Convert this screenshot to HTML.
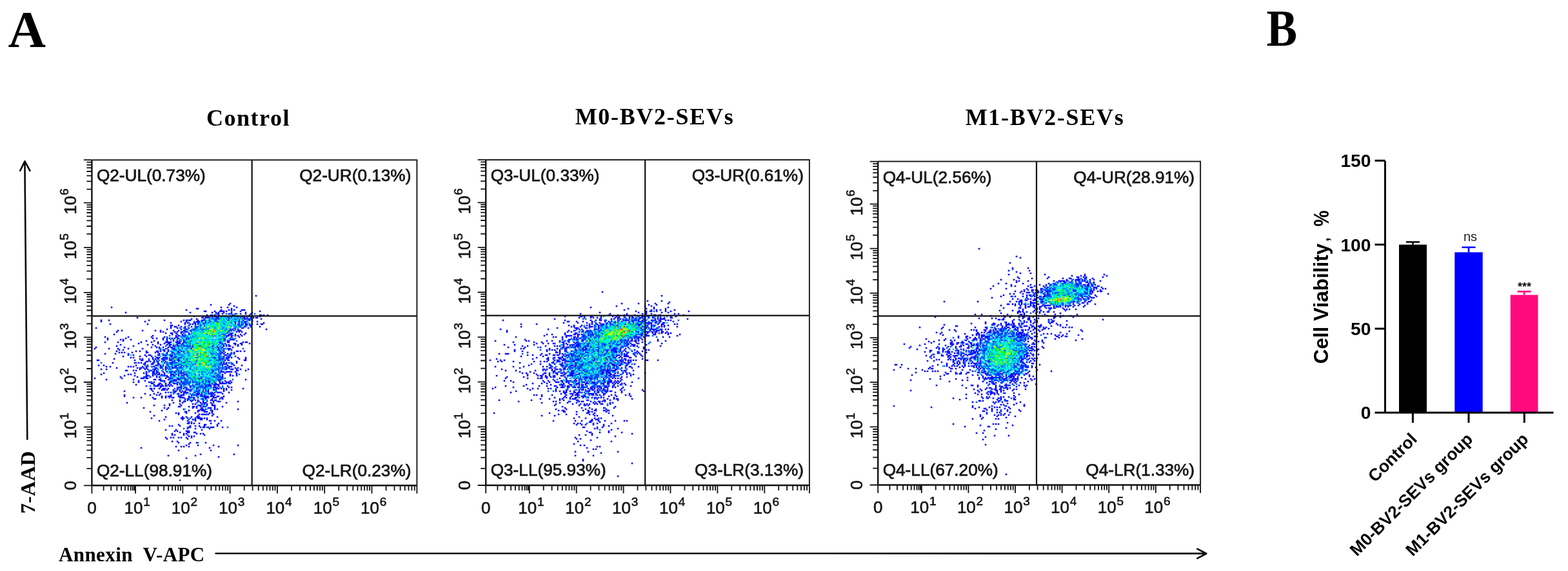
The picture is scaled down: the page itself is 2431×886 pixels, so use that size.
<!DOCTYPE html>
<html><head><meta charset="utf-8"><title>Figure</title>
<style>html,body{margin:0;padding:0;background:#fff;overflow:hidden;}svg{display:block;}</style>
</head><body>
<svg width="2431" height="886" viewBox="0 0 2431 886">
<rect width="2431" height="886" fill="#fff"/>
<text x="12.5" y="72.8" font-family="'Liberation Serif', 'Times New Roman', serif" font-weight="bold" font-size="81">A</text>
<text transform="translate(1963.5,71.3) scale(0.88,1)" font-family="'Liberation Serif', 'Times New Roman', serif" font-weight="bold" font-size="81">B</text>
<g font-family="'Liberation Serif', 'Times New Roman', serif" font-weight="bold" font-size="36" fill="#000">
<text x="385" y="194.8" text-anchor="middle" letter-spacing="1.5">Control</text>
<text x="1015" y="192.8" text-anchor="middle" letter-spacing="1.7">M0-BV2-SEVs</text>
<text x="1620" y="193.8" text-anchor="middle" letter-spacing="1.7">M1-BV2-SEVs</text>
</g>
<text transform="translate(53.9,797) rotate(-90)" font-family="'Liberation Serif', 'Times New Roman', serif" font-weight="bold" font-size="32" letter-spacing="0.3">7-AAD</text>
<path d="M42.3 681.5L38.4 251.5M31.3 264.8L38.4 250.2L46.4 264.8" stroke="#0a0a0a" stroke-width="2.6" fill="none" stroke-linecap="round" stroke-linejoin="round"/>
<text x="91" y="871" font-family="'Liberation Serif', 'Times New Roman', serif" font-weight="bold" font-size="31" letter-spacing="0.4" xml:space="preserve">Annexin  V-APC</text>
<path d="M334.6 858.7L1868 858.9M1856.3 851.7L1870.3 859L1856.3 866.4" stroke="#0a0a0a" stroke-width="2.6" fill="none" stroke-linecap="round" stroke-linejoin="round"/>
<g fill="none" stroke-width="2.6" stroke-linecap="square"><path d="M397 459h0M357 471h0M327 473h0M355 473h0M363 475h0M173 477h0M343 477h0M353 477h0M367 477h0M305 479h0M307 479h0M359 479h0M289 481h0M343 481h0M355 481h0M359 481h0M363 481h0M375 481h0M377 481h0M379 481h0M317 483h0M319 483h0M333 483h0M341 483h0M343 483h0M345 483h0M347 483h0M351 483h0M373 483h0M403 483h0M195 485h0M295 485h0M329 485h0M335 485h0M339 485h0M347 485h0M359 485h0M381 485h0M391 485h0M337 487h0M339 487h0M345 487h0M355 487h0M359 487h0M365 487h0M373 487h0M381 487h0M389 487h0M321 489h0M327 489h0M329 489h0M333 489h0M339 489h0M361 489h0M387 489h0M403 489h0M405 489h0M409 489h0M415 489h0M315 491h0M319 491h0M323 491h0M327 491h0M335 491h0M339 491h0M359 491h0M363 491h0M365 491h0M367 491h0M375 491h0M379 491h0M391 491h0M403 491h0M213 493h0M315 493h0M319 493h0M321 493h0M323 493h0M329 493h0M335 493h0M337 493h0M339 493h0M353 493h0M355 493h0M359 493h0M369 493h0M373 493h0M377 493h0M379 493h0M383 493h0M389 493h0M393 493h0M397 493h0M399 493h0M297 495h0M305 495h0M317 495h0M331 495h0M335 495h0M339 495h0M351 495h0M355 495h0M365 495h0M379 495h0M381 495h0M385 495h0M387 495h0M405 495h0M157 497h0M169 497h0M231 497h0M255 497h0M285 497h0M289 497h0M293 497h0M295 497h0M307 497h0M313 497h0M315 497h0M325 497h0M333 497h0M335 497h0M353 497h0M355 497h0M371 497h0M377 497h0M387 497h0M391 497h0M157 499h0M225 499h0M281 499h0M289 499h0M305 499h0M307 499h0M309 499h0M313 499h0M319 499h0M325 499h0M365 499h0M371 499h0M375 499h0M379 499h0M381 499h0M391 499h0M399 499h0M265 501h0M287 501h0M291 501h0M301 501h0M303 501h0M307 501h0M309 501h0M319 501h0M323 501h0M331 501h0M347 501h0M359 501h0M365 501h0M371 501h0M375 501h0M381 501h0M409 501h0M171 503h0M229 503h0M287 503h0M295 503h0M299 503h0M303 503h0M307 503h0M347 503h0M365 503h0M369 503h0M375 503h0M381 503h0M383 503h0M387 503h0M391 503h0M399 503h0M405 503h0M407 503h0M265 505h0M267 505h0M277 505h0M293 505h0M311 505h0M363 505h0M371 505h0M381 505h0M389 505h0M265 507h0M271 507h0M273 507h0M281 507h0M287 507h0M297 507h0M303 507h0M307 507h0M373 507h0M379 507h0M389 507h0M403 507h0M149 509h0M265 509h0M275 509h0M287 509h0M293 509h0M303 509h0M305 509h0M375 509h0M377 509h0M385 509h0M259 511h0M281 511h0M289 511h0M299 511h0M301 511h0M303 511h0M317 511h0M323 511h0M357 511h0M361 511h0M365 511h0M369 511h0M413 511h0M183 513h0M189 513h0M221 513h0M241 513h0M249 513h0M269 513h0M277 513h0M285 513h0M287 513h0M295 513h0M297 513h0M355 513h0M359 513h0M363 513h0M369 513h0M371 513h0M373 513h0M181 515h0M249 515h0M253 515h0M271 515h0M275 515h0M281 515h0M283 515h0M287 515h0M289 515h0M315 515h0M367 515h0M371 515h0M375 515h0M257 517h0M265 517h0M267 517h0M273 517h0M281 517h0M293 517h0M339 517h0M359 517h0M381 517h0M177 519h0M267 519h0M275 519h0M283 519h0M293 519h0M321 519h0M349 519h0M355 519h0M357 519h0M359 519h0M365 519h0M373 519h0M379 519h0M237 521h0M273 521h0M277 521h0M283 521h0M285 521h0M299 521h0M303 521h0M325 521h0M333 521h0M341 521h0M351 521h0M353 521h0M355 521h0M359 521h0M365 521h0M369 521h0M375 521h0M163 523h0M199 523h0M235 523h0M255 523h0M273 523h0M275 523h0M291 523h0M351 523h0M359 523h0M371 523h0M167 525h0M195 525h0M237 525h0M243 525h0M253 525h0M259 525h0M263 525h0M267 525h0M271 525h0M277 525h0M289 525h0M291 525h0M293 525h0M297 525h0M347 525h0M357 525h0M167 527h0M187 527h0M191 527h0M203 527h0M253 527h0M259 527h0M285 527h0M289 527h0M341 527h0M349 527h0M357 527h0M359 527h0M361 527h0M363 527h0M191 529h0M227 529h0M239 529h0M259 529h0M269 529h0M275 529h0M279 529h0M285 529h0M353 529h0M355 529h0M163 531h0M183 531h0M219 531h0M235 531h0M245 531h0M257 531h0M259 531h0M261 531h0M263 531h0M265 531h0M273 531h0M275 531h0M277 531h0M279 531h0M285 531h0M287 531h0M341 531h0M343 531h0M353 531h0M355 531h0M377 531h0M381 531h0M383 531h0M215 533h0M245 533h0M255 533h0M261 533h0M263 533h0M275 533h0M277 533h0M279 533h0M283 533h0M289 533h0M345 533h0M349 533h0M363 533h0M365 533h0M373 533h0M375 533h0M387 533h0M187 535h0M229 535h0M237 535h0M249 535h0M259 535h0M263 535h0M265 535h0M275 535h0M281 535h0M291 535h0M331 535h0M347 535h0M351 535h0M355 535h0M365 535h0M369 535h0M375 535h0M181 537h0M207 537h0M241 537h0M263 537h0M269 537h0M271 537h0M275 537h0M277 537h0M285 537h0M287 537h0M289 537h0M293 537h0M295 537h0M299 537h0M309 537h0M311 537h0M329 537h0M331 537h0M337 537h0M347 537h0M351 537h0M355 537h0M357 537h0M369 537h0M149 539h0M193 539h0M235 539h0M243 539h0M247 539h0M253 539h0M261 539h0M265 539h0M267 539h0M297 539h0M299 539h0M323 539h0M337 539h0M339 539h0M345 539h0M361 539h0M147 541h0M169 541h0M183 541h0M199 541h0M221 541h0M267 541h0M269 541h0M271 541h0M297 541h0M319 541h0M331 541h0M339 541h0M343 541h0M353 541h0M355 541h0M357 541h0M185 543h0M191 543h0M253 543h0M255 543h0M261 543h0M271 543h0M273 543h0M279 543h0M339 543h0M341 543h0M355 543h0M359 543h0M181 545h0M211 545h0M217 545h0M227 545h0M243 545h0M245 545h0M249 545h0M255 545h0M261 545h0M277 545h0M281 545h0M285 545h0M341 545h0M347 545h0M367 545h0M369 545h0M373 545h0M379 545h0M185 547h0M189 547h0M193 547h0M205 547h0M227 547h0M229 547h0M241 547h0M245 547h0M259 547h0M267 547h0M269 547h0M277 547h0M285 547h0M319 547h0M341 547h0M345 547h0M363 547h0M163 549h0M179 549h0M199 549h0M247 549h0M259 549h0M271 549h0M275 549h0M307 549h0M339 549h0M343 549h0M347 549h0M353 549h0M359 549h0M363 549h0M199 551h0M207 551h0M225 551h0M231 551h0M233 551h0M245 551h0M247 551h0M253 551h0M255 551h0M257 551h0M263 551h0M265 551h0M267 551h0M279 551h0M283 551h0M293 551h0M305 551h0M329 551h0M335 551h0M349 551h0M351 551h0M357 551h0M191 553h0M217 553h0M227 553h0M235 553h0M265 553h0M267 553h0M273 553h0M339 553h0M347 553h0M355 553h0M365 553h0M203 555h0M207 555h0M237 555h0M243 555h0M245 555h0M247 555h0M253 555h0M255 555h0M257 555h0M259 555h0M271 555h0M273 555h0M277 555h0M279 555h0M281 555h0M331 555h0M333 555h0M339 555h0M341 555h0M347 555h0M351 555h0M353 555h0M355 555h0M359 555h0M369 555h0M381 555h0M177 557h0M217 557h0M221 557h0M237 557h0M241 557h0M245 557h0M251 557h0M253 557h0M257 557h0M259 557h0M275 557h0M277 557h0M285 557h0M291 557h0M333 557h0M341 557h0M343 557h0M345 557h0M353 557h0M371 557h0M381 557h0M151 559h0M153 559h0M209 559h0M219 559h0M221 559h0M231 559h0M239 559h0M253 559h0M255 559h0M263 559h0M265 559h0M271 559h0M275 559h0M277 559h0M279 559h0M305 559h0M335 559h0M337 559h0M341 559h0M349 559h0M355 559h0M379 559h0M381 559h0M227 561h0M229 561h0M233 561h0M239 561h0M245 561h0M251 561h0M257 561h0M269 561h0M277 561h0M281 561h0M343 561h0M347 561h0M367 561h0M175 563h0M209 563h0M215 563h0M219 563h0M225 563h0M237 563h0M245 563h0M255 563h0M259 563h0M263 563h0M265 563h0M267 563h0M273 563h0M285 563h0M297 563h0M343 563h0M347 563h0M351 563h0M355 563h0M359 563h0M367 563h0M223 565h0M225 565h0M235 565h0M237 565h0M245 565h0M247 565h0M259 565h0M265 565h0M267 565h0M277 565h0M303 565h0M319 565h0M327 565h0M339 565h0M341 565h0M345 565h0M349 565h0M351 565h0M361 565h0M153 567h0M161 567h0M211 567h0M229 567h0M243 567h0M249 567h0M253 567h0M273 567h0M345 567h0M353 567h0M363 567h0M375 567h0M165 569h0M171 569h0M199 569h0M203 569h0M207 569h0M221 569h0M227 569h0M239 569h0M249 569h0M251 569h0M257 569h0M263 569h0M267 569h0M271 569h0M273 569h0M285 569h0M305 569h0M333 569h0M339 569h0M349 569h0M355 569h0M357 569h0M359 569h0M181 571h0M213 571h0M217 571h0M219 571h0M223 571h0M227 571h0M241 571h0M243 571h0M249 571h0M251 571h0M257 571h0M259 571h0M267 571h0M269 571h0M275 571h0M279 571h0M281 571h0M295 571h0M351 571h0M355 571h0M365 571h0M369 571h0M157 573h0M165 573h0M217 573h0M225 573h0M229 573h0M239 573h0M241 573h0M257 573h0M275 573h0M295 573h0M305 573h0M337 573h0M339 573h0M349 573h0M351 573h0M359 573h0M361 573h0M367 573h0M373 573h0M385 573h0M195 575h0M197 575h0M207 575h0M211 575h0M233 575h0M239 575h0M243 575h0M277 575h0M281 575h0M299 575h0M329 575h0M331 575h0M343 575h0M367 575h0M369 575h0M381 575h0M227 577h0M237 577h0M239 577h0M243 577h0M245 577h0M253 577h0M259 577h0M263 577h0M265 577h0M267 577h0M271 577h0M281 577h0M291 577h0M309 577h0M329 577h0M343 577h0M345 577h0M347 577h0M351 577h0M353 577h0M355 577h0M357 577h0M359 577h0M365 577h0M161 579h0M209 579h0M223 579h0M227 579h0M237 579h0M239 579h0M243 579h0M247 579h0M255 579h0M265 579h0M271 579h0M281 579h0M283 579h0M289 579h0M293 579h0M327 579h0M335 579h0M341 579h0M349 579h0M367 579h0M157 581h0M199 581h0M203 581h0M227 581h0M237 581h0M241 581h0M245 581h0M247 581h0M251 581h0M255 581h0M265 581h0M267 581h0M269 581h0M273 581h0M277 581h0M285 581h0M287 581h0M309 581h0M321 581h0M337 581h0M339 581h0M345 581h0M357 581h0M367 581h0M193 583h0M209 583h0M227 583h0M229 583h0M237 583h0M255 583h0M259 583h0M265 583h0M269 583h0M271 583h0M277 583h0M283 583h0M291 583h0M337 583h0M345 583h0M357 583h0M361 583h0M367 583h0M187 585h0M213 585h0M225 585h0M227 585h0M233 585h0M243 585h0M247 585h0M259 585h0M261 585h0M281 585h0M285 585h0M301 585h0M313 585h0M331 585h0M333 585h0M337 585h0M341 585h0M345 585h0M147 587h0M189 587h0M219 587h0M221 587h0M223 587h0M227 587h0M229 587h0M257 587h0M263 587h0M265 587h0M267 587h0M275 587h0M277 587h0M281 587h0M283 587h0M287 587h0M293 587h0M307 587h0M311 587h0M321 587h0M325 587h0M335 587h0M343 587h0M345 587h0M165 589h0M207 589h0M239 589h0M241 589h0M247 589h0M249 589h0M261 589h0M271 589h0M277 589h0M279 589h0M287 589h0M297 589h0M309 589h0M319 589h0M329 589h0M337 589h0M339 589h0M341 589h0M381 589h0M215 591h0M225 591h0M249 591h0M251 591h0M253 591h0M255 591h0M265 591h0M267 591h0M269 591h0M271 591h0M273 591h0M281 591h0M287 591h0M295 591h0M299 591h0M315 591h0M319 591h0M325 591h0M341 591h0M349 591h0M357 591h0M207 593h0M215 593h0M231 593h0M235 593h0M239 593h0M263 593h0M265 593h0M281 593h0M285 593h0M291 593h0M295 593h0M299 593h0M305 593h0M309 593h0M313 593h0M319 593h0M323 593h0M325 593h0M341 593h0M345 593h0M351 593h0M353 593h0M355 593h0M359 593h0M235 595h0M237 595h0M247 595h0M249 595h0M257 595h0M263 595h0M269 595h0M271 595h0M275 595h0M279 595h0M283 595h0M285 595h0M293 595h0M309 595h0M325 595h0M329 595h0M333 595h0M335 595h0M341 595h0M343 595h0M345 595h0M347 595h0M349 595h0M355 595h0M357 595h0M211 597h0M239 597h0M245 597h0M247 597h0M251 597h0M257 597h0M261 597h0M265 597h0M275 597h0M281 597h0M285 597h0M293 597h0M305 597h0M309 597h0M323 597h0M325 597h0M331 597h0M333 597h0M335 597h0M337 597h0M339 597h0M227 599h0M241 599h0M243 599h0M245 599h0M249 599h0M251 599h0M253 599h0M257 599h0M263 599h0M267 599h0M281 599h0M295 599h0M301 599h0M313 599h0M319 599h0M323 599h0M325 599h0M327 599h0M333 599h0M339 599h0M353 599h0M249 601h0M277 601h0M279 601h0M281 601h0M287 601h0M295 601h0M301 601h0M305 601h0M311 601h0M319 601h0M327 601h0M331 601h0M333 601h0M335 601h0M355 601h0M359 601h0M233 603h0M235 603h0M239 603h0M247 603h0M253 603h0M255 603h0M261 603h0M275 603h0M281 603h0M285 603h0M289 603h0M305 603h0M335 603h0M337 603h0M339 603h0M343 603h0M347 603h0M351 603h0M377 603h0M235 605h0M251 605h0M253 605h0M255 605h0M259 605h0M269 605h0M275 605h0M279 605h0M289 605h0M293 605h0M295 605h0M297 605h0M309 605h0M319 605h0M323 605h0M331 605h0M333 605h0M347 605h0M351 605h0M359 605h0M193 607h0M237 607h0M271 607h0M273 607h0M279 607h0M283 607h0M287 607h0M295 607h0M305 607h0M309 607h0M315 607h0M323 607h0M335 607h0M347 607h0M245 609h0M257 609h0M265 609h0M271 609h0M281 609h0M285 609h0M287 609h0M289 609h0M291 609h0M301 609h0M307 609h0M313 609h0M317 609h0M323 609h0M329 609h0M333 609h0M337 609h0M339 609h0M341 609h0M355 609h0M225 611h0M239 611h0M249 611h0M277 611h0M285 611h0M305 611h0M307 611h0M309 611h0M313 611h0M319 611h0M323 611h0M325 611h0M327 611h0M329 611h0M331 611h0M345 611h0M193 613h0M233 613h0M243 613h0M247 613h0M265 613h0M281 613h0M283 613h0M285 613h0M297 613h0M301 613h0M305 613h0M307 613h0M311 613h0M313 613h0M317 613h0M329 613h0M333 613h0M193 615h0M251 615h0M257 615h0M261 615h0M263 615h0M265 615h0M277 615h0M279 615h0M281 615h0M293 615h0M313 615h0M315 615h0M317 615h0M319 615h0M321 615h0M327 615h0M329 615h0M331 615h0M337 615h0M339 615h0M347 615h0M207 617h0M219 617h0M237 617h0M251 617h0M257 617h0M263 617h0M267 617h0M269 617h0M279 617h0M283 617h0M285 617h0M293 617h0M295 617h0M301 617h0M307 617h0M317 617h0M319 617h0M321 617h0M323 617h0M331 617h0M333 617h0M335 617h0M343 617h0M345 617h0M239 619h0M241 619h0M287 619h0M291 619h0M293 619h0M301 619h0M313 619h0M315 619h0M319 619h0M329 619h0M341 619h0M345 619h0M267 621h0M279 621h0M291 621h0M295 621h0M299 621h0M303 621h0M307 621h0M315 621h0M327 621h0M329 621h0M333 621h0M335 621h0M279 623h0M285 623h0M287 623h0M297 623h0M307 623h0M315 623h0M331 623h0M339 623h0M341 623h0M369 623h0M197 625h0M269 625h0M283 625h0M311 625h0M315 625h0M317 625h0M319 625h0M327 625h0M351 625h0M263 627h0M279 627h0M299 627h0M303 627h0M313 627h0M317 627h0M321 627h0M329 627h0M239 629h0M255 629h0M263 629h0M281 629h0M309 629h0M311 629h0M321 629h0M329 629h0M331 629h0M333 629h0M277 631h0M279 631h0M293 631h0M299 631h0M301 631h0M305 631h0M311 631h0M315 631h0M319 631h0M333 631h0M345 631h0M223 633h0M255 633h0M261 633h0M299 633h0M305 633h0M313 633h0M323 633h0M325 633h0M327 633h0M333 633h0M259 635h0M285 635h0M311 635h0M313 635h0M315 635h0M319 635h0M333 635h0M337 635h0M369 635h0M251 637h0M293 637h0M307 637h0M309 637h0M313 637h0M315 637h0M317 637h0M327 637h0M329 637h0M233 639h0M287 639h0M289 639h0M307 639h0M317 639h0M319 639h0M321 639h0M329 639h0M273 641h0M277 641h0M289 641h0M303 641h0M325 641h0M329 641h0M277 643h0M309 643h0M313 643h0M315 643h0M317 643h0M319 643h0M323 643h0M331 643h0M239 645h0M307 645h0M329 645h0M257 647h0M283 647h0M289 647h0M297 647h0M305 647h0M307 647h0M309 647h0M337 647h0M235 649h0M281 649h0M283 649h0M285 649h0M291 649h0M303 649h0M307 649h0M309 649h0M311 649h0M313 649h0M317 649h0M321 649h0M255 651h0M283 651h0M299 651h0M303 651h0M311 651h0M313 651h0M321 651h0M247 653h0M291 653h0M303 653h0M325 653h0M327 653h0M333 653h0M343 653h0M293 655h0M297 655h0M291 657h0M293 657h0M297 657h0M301 657h0M309 657h0M327 657h0M339 657h0M277 659h0M317 659h0M319 659h0M337 659h0M263 661h0M267 661h0M279 661h0M295 661h0M303 661h0M309 661h0M317 661h0M337 661h0M293 663h0M295 663h0M311 663h0M315 663h0M317 663h0M323 663h0M327 663h0M329 663h0M331 663h0M345 663h0M291 665h0M303 665h0M325 665h0M257 667h0M273 667h0M313 667h0M271 669h0M275 669h0M289 669h0M291 669h0M293 669h0M279 671h0M291 671h0M293 671h0M301 671h0M303 671h0M267 673h0M285 673h0M289 673h0M305 673h0M311 673h0M315 673h0M267 675h0M271 675h0M285 675h0M317 675h0M293 677h0M297 677h0M301 677h0M257 679h0M265 679h0M269 679h0M277 679h0M281 679h0M289 679h0M297 679h0M259 681h0M291 681h0M267 685h0M275 685h0M277 687h0M295 687h0M305 687h0M319 687h0M293 689h0M289 691h0M307 691h0M331 691h0M369 691h0M273 693h0M281 693h0M285 693h0M293 693h0M339 693h0M219 695h0M325 695h0M277 699h0M327 699h0M311 705h0M363 705h0M261 707h0M303 707h0M339 709h0M289 711h0M289 723h0M297 731h0M279 745h0" stroke="rgb(10,10,255)"/><path d="M359 483h0M335 487h0M351 487h0M357 487h0M367 487h0M395 487h0M363 489h0M301 491h0M321 491h0M331 491h0M333 491h0M343 491h0M347 491h0M349 491h0M353 491h0M357 491h0M369 491h0M371 491h0M385 491h0M387 491h0M313 493h0M325 493h0M343 493h0M325 495h0M329 495h0M333 495h0M337 495h0M341 495h0M347 495h0M363 495h0M367 495h0M371 495h0M375 495h0M383 495h0M389 495h0M391 495h0M291 497h0M317 497h0M319 497h0M347 497h0M359 497h0M365 497h0M385 497h0M301 499h0M327 499h0M333 499h0M335 499h0M337 499h0M339 499h0M349 499h0M363 499h0M369 499h0M383 499h0M293 501h0M315 501h0M317 501h0M337 501h0M357 501h0M379 501h0M311 503h0M315 503h0M317 503h0M327 503h0M349 503h0M371 503h0M377 503h0M303 505h0M317 505h0M343 505h0M353 505h0M357 505h0M369 505h0M373 505h0M375 505h0M383 505h0M387 505h0M305 507h0M311 507h0M317 507h0M333 507h0M345 507h0M365 507h0M367 507h0M371 507h0M381 507h0M279 509h0M285 509h0M311 509h0M315 509h0M325 509h0M333 509h0M345 509h0M347 509h0M351 509h0M363 509h0M365 509h0M287 511h0M291 511h0M311 511h0M313 511h0M315 511h0M319 511h0M345 511h0M349 511h0M351 511h0M359 511h0M301 513h0M305 513h0M307 513h0M313 513h0M349 513h0M357 513h0M291 515h0M297 515h0M311 515h0M341 515h0M353 515h0M355 515h0M285 517h0M347 517h0M351 517h0M353 517h0M357 517h0M361 517h0M287 519h0M295 519h0M343 519h0M345 519h0M347 519h0M263 521h0M279 521h0M287 521h0M289 521h0M329 521h0M339 521h0M347 521h0M361 521h0M259 523h0M281 523h0M285 523h0M287 523h0M295 523h0M299 523h0M301 523h0M345 523h0M275 525h0M283 525h0M303 525h0M307 525h0M343 525h0M349 525h0M361 525h0M365 525h0M265 527h0M269 527h0M275 527h0M279 527h0M293 527h0M319 527h0M323 527h0M329 527h0M339 527h0M347 527h0M281 529h0M287 529h0M295 529h0M297 529h0M311 529h0M321 529h0M347 529h0M349 529h0M367 529h0M289 531h0M291 531h0M295 531h0M339 531h0M285 533h0M293 533h0M295 533h0M305 533h0M307 533h0M317 533h0M325 533h0M329 533h0M341 533h0M343 533h0M269 535h0M273 535h0M283 535h0M285 535h0M295 535h0M299 535h0M325 535h0M339 535h0M345 535h0M257 537h0M279 537h0M281 537h0M291 537h0M341 537h0M271 539h0M277 539h0M283 539h0M291 539h0M293 539h0M313 539h0M325 539h0M329 539h0M333 539h0M343 539h0M247 541h0M249 541h0M257 541h0M259 541h0M277 541h0M283 541h0M287 541h0M291 541h0M295 541h0M329 541h0M347 541h0M349 541h0M377 541h0M249 543h0M269 543h0M289 543h0M299 543h0M331 543h0M337 543h0M345 543h0M347 543h0M265 545h0M275 545h0M283 545h0M291 545h0M325 545h0M329 545h0M343 545h0M275 547h0M279 547h0M291 547h0M293 547h0M327 547h0M331 547h0M335 547h0M343 547h0M349 547h0M359 547h0M253 549h0M267 549h0M277 549h0M287 549h0M291 549h0M311 549h0M327 549h0M329 549h0M331 549h0M333 549h0M337 549h0M341 549h0M357 549h0M259 551h0M271 551h0M301 551h0M339 551h0M341 551h0M355 551h0M241 553h0M257 553h0M271 553h0M281 553h0M285 553h0M315 553h0M321 553h0M323 553h0M341 553h0M343 553h0M353 553h0M357 553h0M263 555h0M267 555h0M269 555h0M283 555h0M287 555h0M303 555h0M305 555h0M307 555h0M325 555h0M329 555h0M335 555h0M345 555h0M231 557h0M255 557h0M263 557h0M265 557h0M267 557h0M269 557h0M289 557h0M295 557h0M339 557h0M347 557h0M351 557h0M243 559h0M247 559h0M267 559h0M289 559h0M325 559h0M327 559h0M339 559h0M345 559h0M353 559h0M243 561h0M267 561h0M271 561h0M287 561h0M291 561h0M293 561h0M295 561h0M303 561h0M305 561h0M325 561h0M333 561h0M339 561h0M157 563h0M211 563h0M239 563h0M269 563h0M271 563h0M275 563h0M283 563h0M287 563h0M303 563h0M337 563h0M341 563h0M261 565h0M279 565h0M281 565h0M291 565h0M299 565h0M301 565h0M309 565h0M311 565h0M333 565h0M335 565h0M343 565h0M347 565h0M359 565h0M225 567h0M241 567h0M245 567h0M259 567h0M261 567h0M267 567h0M271 567h0M275 567h0M277 567h0M281 567h0M283 567h0M287 567h0M289 567h0M295 567h0M299 567h0M323 567h0M331 567h0M333 567h0M337 567h0M341 567h0M229 569h0M235 569h0M237 569h0M261 569h0M279 569h0M281 569h0M289 569h0M291 569h0M297 569h0M329 569h0M345 569h0M351 569h0M263 571h0M271 571h0M273 571h0M277 571h0M283 571h0M289 571h0M301 571h0M335 571h0M339 571h0M341 571h0M343 571h0M345 571h0M347 571h0M353 571h0M237 573h0M245 573h0M253 573h0M261 573h0M263 573h0M265 573h0M283 573h0M319 573h0M327 573h0M329 573h0M333 573h0M335 573h0M345 573h0M357 573h0M231 575h0M235 575h0M251 575h0M257 575h0M273 575h0M275 575h0M321 575h0M335 575h0M339 575h0M231 577h0M269 577h0M273 577h0M277 577h0M279 577h0M285 577h0M287 577h0M313 577h0M315 577h0M317 577h0M325 577h0M331 577h0M339 577h0M341 577h0M277 579h0M279 579h0M285 579h0M295 579h0M313 579h0M319 579h0M323 579h0M329 579h0M333 579h0M239 581h0M281 581h0M289 581h0M291 581h0M297 581h0M301 581h0M303 581h0M313 581h0M315 581h0M333 581h0M371 581h0M231 583h0M243 583h0M249 583h0M251 583h0M253 583h0M257 583h0M281 583h0M285 583h0M289 583h0M297 583h0M303 583h0M309 583h0M327 583h0M331 583h0M335 583h0M339 583h0M341 583h0M223 585h0M265 585h0M269 585h0M291 585h0M311 585h0M319 585h0M329 585h0M339 585h0M343 585h0M249 587h0M279 587h0M285 587h0M295 587h0M297 587h0M301 587h0M303 587h0M309 587h0M313 587h0M323 587h0M339 587h0M349 587h0M263 589h0M269 589h0M273 589h0M275 589h0M289 589h0M291 589h0M299 589h0M303 589h0M313 589h0M317 589h0M323 589h0M343 589h0M361 589h0M289 591h0M291 591h0M303 591h0M321 591h0M323 591h0M331 591h0M335 591h0M339 591h0M233 593h0M255 593h0M269 593h0M275 593h0M277 593h0M283 593h0M287 593h0M289 593h0M293 593h0M301 593h0M303 593h0M315 593h0M331 593h0M333 593h0M273 595h0M287 595h0M289 595h0M291 595h0M305 595h0M307 595h0M315 595h0M317 595h0M319 595h0M351 595h0M279 597h0M287 597h0M289 597h0M299 597h0M303 597h0M307 597h0M313 597h0M317 597h0M319 597h0M321 597h0M327 597h0M233 599h0M239 599h0M259 599h0M285 599h0M297 599h0M299 599h0M309 599h0M311 599h0M315 599h0M321 599h0M345 599h0M275 601h0M289 601h0M307 601h0M309 601h0M313 601h0M315 601h0M317 601h0M321 601h0M337 601h0M341 601h0M345 601h0M257 603h0M271 603h0M277 603h0M291 603h0M299 603h0M307 603h0M315 603h0M317 603h0M319 603h0M323 603h0M331 603h0M291 605h0M305 605h0M315 605h0M335 605h0M269 607h0M303 607h0M307 607h0M319 607h0M321 607h0M261 609h0M269 609h0M303 609h0M309 609h0M327 609h0M343 609h0M269 611h0M275 611h0M289 611h0M295 611h0M299 611h0M277 613h0M299 613h0M303 613h0M327 613h0M297 615h0M305 615h0M311 615h0M323 615h0M281 617h0M297 617h0M299 617h0M287 621h0M297 621h0M321 621h0M309 623h0M321 623h0M337 623h0M305 625h0M331 625h0M307 629h0M315 629h0M317 631h0M327 635h0M321 643h0M295 649h0M293 651h0M301 651h0M291 663h0M321 663h0M353 663h0M285 665h0M291 675h0M307 687h0" stroke="rgb(0,90,255)"/><path d="M345 491h0M351 491h0M361 491h0M377 491h0M381 491h0M333 493h0M345 493h0M347 493h0M349 493h0M351 493h0M357 493h0M363 493h0M367 493h0M327 495h0M343 495h0M357 495h0M361 495h0M323 497h0M337 497h0M345 497h0M349 497h0M361 497h0M367 497h0M369 497h0M383 497h0M311 499h0M323 499h0M331 499h0M343 499h0M345 499h0M351 499h0M359 499h0M373 499h0M377 499h0M313 501h0M321 501h0M325 501h0M327 501h0M343 501h0M345 501h0M351 501h0M355 501h0M377 501h0M385 501h0M309 503h0M319 503h0M321 503h0M329 503h0M333 503h0M343 503h0M361 503h0M309 505h0M313 505h0M349 505h0M355 505h0M359 505h0M365 505h0M377 505h0M291 507h0M309 507h0M319 507h0M325 507h0M337 507h0M347 507h0M349 507h0M359 507h0M363 507h0M307 509h0M319 509h0M321 509h0M323 509h0M335 509h0M341 509h0M355 509h0M357 509h0M369 509h0M297 511h0M305 511h0M307 511h0M309 511h0M321 511h0M333 511h0M335 511h0M341 511h0M343 511h0M353 511h0M291 513h0M299 513h0M303 513h0M309 513h0M315 513h0M325 513h0M331 513h0M347 513h0M301 515h0M303 515h0M309 515h0M317 515h0M345 515h0M349 515h0M297 517h0M299 517h0M313 517h0M319 517h0M345 517h0M285 519h0M297 519h0M301 519h0M305 519h0M313 519h0M317 519h0M341 519h0M291 521h0M305 521h0M309 521h0M315 521h0M331 521h0M335 521h0M349 521h0M283 523h0M289 523h0M297 523h0M305 523h0M307 523h0M309 523h0M317 523h0M323 523h0M327 523h0M331 523h0M335 523h0M347 523h0M349 523h0M265 525h0M295 525h0M321 525h0M339 525h0M341 525h0M281 527h0M287 527h0M299 527h0M311 527h0M313 527h0M317 527h0M331 527h0M333 527h0M335 527h0M337 527h0M343 527h0M353 527h0M291 529h0M301 529h0M305 529h0M325 529h0M329 529h0M333 529h0M341 529h0M343 529h0M299 531h0M305 531h0M319 531h0M333 531h0M303 533h0M321 533h0M337 533h0M289 535h0M335 535h0M343 535h0M301 537h0M323 537h0M343 537h0M273 539h0M281 539h0M289 539h0M295 539h0M303 539h0M307 539h0M317 539h0M327 539h0M335 539h0M275 541h0M281 541h0M289 541h0M301 541h0M317 541h0M321 541h0M335 541h0M341 541h0M351 541h0M267 543h0M277 543h0M281 543h0M297 543h0M325 543h0M267 545h0M269 545h0M273 545h0M287 545h0M299 545h0M305 545h0M333 545h0M339 545h0M289 547h0M301 547h0M305 547h0M317 547h0M329 547h0M251 549h0M257 549h0M265 549h0M269 549h0M273 549h0M279 549h0M281 549h0M285 549h0M293 549h0M295 549h0M305 549h0M335 549h0M203 551h0M273 551h0M277 551h0M281 551h0M285 551h0M291 551h0M299 551h0M313 551h0M323 551h0M337 551h0M249 553h0M255 553h0M269 553h0M275 553h0M283 553h0M287 553h0M291 553h0M293 553h0M295 553h0M309 553h0M311 553h0M327 553h0M331 553h0M333 553h0M345 553h0M311 555h0M321 555h0M327 555h0M343 555h0M279 557h0M315 557h0M325 557h0M335 557h0M287 559h0M291 559h0M323 559h0M329 559h0M343 559h0M253 561h0M259 561h0M279 561h0M285 561h0M297 561h0M313 561h0M321 561h0M331 561h0M345 561h0M261 563h0M281 563h0M289 563h0M293 563h0M323 563h0M335 563h0M357 563h0M253 565h0M269 565h0M271 565h0M273 565h0M285 565h0M289 565h0M293 565h0M295 565h0M297 565h0M305 565h0M313 565h0M325 565h0M285 567h0M297 567h0M321 567h0M329 567h0M335 567h0M339 567h0M343 567h0M247 569h0M253 569h0M265 569h0M277 569h0M295 569h0M309 569h0M311 569h0M317 569h0M331 569h0M335 569h0M341 569h0M261 571h0M303 571h0M305 571h0M315 571h0M323 571h0M329 571h0M277 573h0M285 573h0M297 573h0M299 573h0M307 573h0M311 573h0M313 573h0M315 573h0M317 573h0M321 573h0M331 573h0M341 573h0M347 573h0M265 575h0M267 575h0M279 575h0M285 575h0M301 575h0M315 575h0M323 575h0M325 575h0M333 575h0M275 577h0M293 577h0M297 577h0M301 577h0M307 577h0M311 577h0M319 577h0M267 579h0M273 579h0M297 579h0M301 579h0M325 579h0M339 579h0M271 581h0M275 581h0M325 581h0M341 581h0M293 583h0M307 583h0M315 583h0M317 583h0M325 583h0M329 583h0M267 585h0M271 585h0M273 585h0M277 585h0M283 585h0M293 585h0M295 585h0M315 585h0M317 585h0M321 585h0M327 585h0M335 585h0M289 587h0M319 587h0M327 587h0M347 587h0M265 589h0M267 589h0M325 589h0M327 589h0M331 589h0M333 589h0M345 589h0M285 591h0M301 591h0M305 591h0M309 591h0M327 591h0M333 591h0M267 593h0M307 593h0M311 593h0M321 593h0M327 593h0M281 595h0M295 595h0M299 595h0M303 595h0M311 595h0M323 595h0M283 597h0M311 597h0M303 599h0M307 599h0M283 601h0M297 601h0M323 601h0M297 603h0M311 603h0M325 603h0M327 603h0M281 605h0M301 605h0M311 605h0M321 605h0M297 607h0M301 607h0M315 609h0M319 609h0M321 609h0M293 611h0M301 611h0M317 611h0M321 611h0M319 613h0M307 615h0M315 617h0M311 619h0M317 621h0M317 629h0M287 635h0M321 635h0" stroke="rgb(0,190,255)"/><path d="M355 491h0M341 493h0M365 493h0M371 493h0M349 495h0M353 495h0M321 497h0M329 497h0M331 497h0M343 497h0M351 497h0M357 497h0M363 497h0M321 499h0M329 499h0M341 499h0M347 499h0M353 499h0M361 499h0M367 499h0M311 501h0M329 501h0M333 501h0M339 501h0M349 501h0M361 501h0M373 501h0M323 503h0M331 503h0M341 503h0M345 503h0M353 503h0M355 503h0M359 503h0M363 503h0M319 505h0M321 505h0M323 505h0M325 505h0M327 505h0M329 505h0M331 505h0M333 505h0M335 505h0M339 505h0M341 505h0M345 505h0M347 505h0M351 505h0M361 505h0M367 505h0M315 507h0M321 507h0M327 507h0M335 507h0M339 507h0M343 507h0M351 507h0M353 507h0M357 507h0M375 507h0M301 509h0M309 509h0M313 509h0M327 509h0M329 509h0M331 509h0M343 509h0M349 509h0M327 511h0M337 511h0M339 511h0M347 511h0M311 513h0M321 513h0M335 513h0M339 513h0M365 513h0M305 515h0M307 515h0M321 515h0M327 515h0M335 515h0M339 515h0M347 515h0M303 517h0M305 517h0M307 517h0M311 517h0M315 517h0M325 517h0M327 517h0M329 517h0M331 517h0M333 517h0M337 517h0M341 517h0M343 517h0M349 517h0M299 519h0M307 519h0M309 519h0M311 519h0M315 519h0M319 519h0M323 519h0M327 519h0M331 519h0M335 519h0M339 519h0M295 521h0M297 521h0M301 521h0M311 521h0M313 521h0M317 521h0M321 521h0M323 521h0M327 521h0M337 521h0M343 521h0M293 523h0M311 523h0M315 523h0M319 523h0M321 523h0M337 523h0M339 523h0M341 523h0M343 523h0M285 525h0M299 525h0M301 525h0M311 525h0M313 525h0M323 525h0M325 525h0M327 525h0M331 525h0M335 525h0M337 525h0M345 525h0M355 525h0M295 527h0M301 527h0M303 527h0M305 527h0M307 527h0M309 527h0M315 527h0M321 527h0M325 527h0M327 527h0M289 529h0M293 529h0M299 529h0M307 529h0M309 529h0M313 529h0M317 529h0M319 529h0M323 529h0M327 529h0M331 529h0M335 529h0M345 529h0M297 531h0M301 531h0M303 531h0M311 531h0M327 531h0M329 531h0M335 531h0M337 531h0M345 531h0M269 533h0M287 533h0M291 533h0M297 533h0M299 533h0M301 533h0M309 533h0M311 533h0M315 533h0M319 533h0M327 533h0M333 533h0M279 535h0M287 535h0M293 535h0M307 535h0M309 535h0M313 535h0M317 535h0M321 535h0M333 535h0M337 535h0M349 535h0M303 537h0M315 537h0M321 537h0M327 537h0M333 537h0M339 537h0M275 539h0M279 539h0M287 539h0M301 539h0M305 539h0M319 539h0M331 539h0M273 541h0M303 541h0M313 541h0M325 541h0M327 541h0M333 541h0M283 543h0M285 543h0M287 543h0M293 543h0M295 543h0M307 543h0M309 543h0M321 543h0M323 543h0M327 543h0M343 543h0M271 545h0M297 545h0M309 545h0M311 545h0M313 545h0M315 545h0M317 545h0M319 545h0M321 545h0M323 545h0M327 545h0M331 545h0M335 545h0M273 547h0M283 547h0M295 547h0M299 547h0M303 547h0M307 547h0M315 547h0M323 547h0M333 547h0M339 547h0M289 549h0M297 549h0M301 549h0M309 549h0M319 549h0M321 549h0M323 549h0M261 551h0M287 551h0M289 551h0M295 551h0M297 551h0M307 551h0M315 551h0M325 551h0M327 551h0M331 551h0M333 551h0M277 553h0M279 553h0M297 553h0M305 553h0M313 553h0M335 553h0M337 553h0M275 555h0M285 555h0M289 555h0M291 555h0M295 555h0M299 555h0M301 555h0M315 555h0M337 555h0M273 557h0M281 557h0M297 557h0M299 557h0M305 557h0M307 557h0M317 557h0M319 557h0M321 557h0M323 557h0M327 557h0M329 557h0M331 557h0M273 559h0M281 559h0M283 559h0M285 559h0M293 559h0M295 559h0M299 559h0M309 559h0M317 559h0M321 559h0M331 559h0M301 561h0M307 561h0M311 561h0M315 561h0M327 561h0M329 561h0M335 561h0M337 561h0M341 561h0M251 563h0M277 563h0M279 563h0M295 563h0M299 563h0M301 563h0M307 563h0M309 563h0M311 563h0M321 563h0M325 563h0M327 563h0M329 563h0M339 563h0M257 565h0M315 565h0M323 565h0M329 565h0M337 565h0M263 567h0M269 567h0M293 567h0M301 567h0M303 567h0M307 567h0M309 567h0M311 567h0M319 567h0M327 567h0M287 569h0M293 569h0M299 569h0M301 569h0M303 569h0M313 569h0M315 569h0M323 569h0M285 571h0M291 571h0M293 571h0M297 571h0M307 571h0M309 571h0M311 571h0M317 571h0M321 571h0M325 571h0M327 571h0M331 571h0M333 571h0M279 573h0M281 573h0M287 573h0M293 573h0M301 573h0M309 573h0M325 573h0M245 575h0M261 575h0M289 575h0M291 575h0M293 575h0M295 575h0M297 575h0M307 575h0M309 575h0M313 575h0M319 575h0M327 575h0M337 575h0M295 577h0M299 577h0M303 577h0M305 577h0M321 577h0M323 577h0M327 577h0M333 577h0M261 579h0M291 579h0M299 579h0M307 579h0M309 579h0M315 579h0M317 579h0M321 579h0M293 581h0M295 581h0M299 581h0M307 581h0M311 581h0M317 581h0M319 581h0M327 581h0M329 581h0M331 581h0M335 581h0M295 583h0M299 583h0M301 583h0M305 583h0M313 583h0M319 583h0M321 583h0M323 583h0M279 585h0M305 585h0M307 585h0M309 585h0M323 585h0M325 585h0M299 587h0M315 587h0M329 587h0M331 587h0M281 589h0M295 589h0M301 589h0M305 589h0M321 589h0M335 589h0M293 591h0M297 591h0M311 591h0M317 591h0M317 593h0M329 593h0M313 595h0M321 595h0M331 595h0M291 597h0M305 599h0M303 601h0M325 601h0M301 603h0M321 603h0M311 607h0M333 607h0M311 609h0M295 619h0" stroke="rgb(0,245,230)"/><path d="M345 495h0M373 495h0M355 499h0M357 499h0M341 501h0M353 501h0M335 503h0M351 503h0M331 507h0M341 507h0M369 507h0M331 511h0M317 513h0M323 513h0M337 513h0M345 513h0M351 513h0M353 513h0M313 515h0M329 515h0M337 515h0M343 515h0M335 517h0M303 519h0M337 519h0M307 521h0M319 521h0M303 523h0M325 523h0M329 523h0M305 525h0M319 525h0M303 529h0M315 529h0M339 529h0M313 531h0M315 531h0M321 531h0M335 533h0M305 535h0M311 535h0M323 535h0M329 535h0M305 537h0M317 537h0M319 537h0M311 541h0M323 541h0M311 543h0M319 543h0M329 543h0M333 543h0M293 545h0M301 545h0M303 545h0M307 545h0M299 549h0M315 549h0M319 551h0M299 553h0M319 553h0M329 553h0M293 555h0M309 555h0M313 555h0M317 555h0M319 555h0M323 555h0M287 557h0M293 557h0M301 557h0M311 557h0M337 557h0M301 559h0M303 559h0M307 559h0M311 559h0M313 559h0M333 559h0M299 561h0M319 561h0M291 563h0M305 563h0M331 563h0M333 563h0M283 565h0M287 565h0M321 565h0M331 565h0M317 567h0M307 569h0M313 571h0M303 575h0M311 575h0M317 575h0M289 577h0M303 585h0M283 589h0M311 589h0M315 589h0M307 591h0" stroke="rgb(0,255,120)"/><path d="M341 497h0M337 503h0M337 505h0M329 507h0M337 509h0M319 513h0M327 513h0M341 513h0M323 515h0M301 517h0M321 517h0M329 519h0M313 523h0M317 525h0M297 527h0M345 527h0M293 531h0M309 531h0M317 531h0M323 531h0M331 531h0M323 533h0M331 533h0M301 535h0M315 535h0M297 537h0M307 537h0M313 537h0M315 539h0M321 539h0M305 541h0M307 541h0M311 547h0M325 547h0M313 549h0M317 549h0M311 551h0M317 551h0M307 553h0M297 555h0M315 559h0M289 561h0M317 561h0M323 561h0M317 563h0M319 563h0M275 565h0M291 567h0M325 567h0M319 571h0M303 573h0M323 573h0M303 579h0M299 585h0M305 587h0M329 591h0" stroke="rgb(0,255,30)"/><path d="M335 501h0M339 503h0M353 509h0M329 513h0M325 515h0M351 515h0M309 517h0M333 519h0M345 521h0M325 531h0M313 533h0M303 535h0M319 535h0M325 537h0M309 539h0M311 539h0M315 541h0M301 543h0M303 543h0M295 545h0M297 547h0M321 547h0M303 551h0M309 551h0M317 553h0M271 557h0M313 557h0M319 559h0M309 561h0M315 563h0M307 565h0M313 567h0M315 567h0M327 569h0M305 575h0" stroke="rgb(120,255,0)"/><path d="M323 507h0M355 507h0M317 509h0M339 509h0M325 511h0M329 511h0M343 513h0M333 515h0M317 517h0M323 517h0M309 525h0M315 525h0M299 541h0M309 541h0M305 543h0M315 543h0M317 543h0M309 547h0M313 547h0M303 549h0M325 553h0M303 557h0M309 557h0M297 559h0M317 565h0M305 567h0M325 569h0" stroke="rgb(220,255,0)"/><path d="M325 519h0M307 531h0M313 543h0M321 551h0M301 553h0M313 563h0M321 569h0" stroke="rgb(255,200,0)"/><path d="M333 513h0M331 515h0" stroke="rgb(255,120,0)"/></g>
<path d="M390.6 248.2V753.3M142.4 490.3H646.4" stroke="#111" stroke-width="2.2" fill="none"/>
<path d="M142.4 753.3v12.5M142.4 753.3h-12.5M160.6 753.3v8M142.4 727.2h-8M172.2 753.3v8M142.4 710.1h-8M181.3 753.3v8M142.4 698.6h-8M188.1 753.3v8M142.4 690.6h-8M193.9 753.3v8M142.4 683.7h-8M198.7 753.3v8M142.4 678.8h-8M202.7 753.3v8M142.4 674.4h-8M205.7 753.3v8M142.4 670.2h-8M208.2 753.3v8M142.4 666.3h-8M210.0 753.3v12.5M142.4 662.6h-12.5M232.1 753.3v8M142.4 641.6h-8M245.0 753.3v8M142.4 629.4h-8M254.1 753.3v8M142.4 620.7h-8M261.2 753.3v8M142.4 614.0h-8M267.0 753.3v8M142.4 608.4h-8M271.9 753.3v8M142.4 603.8h-8M276.2 753.3v8M142.4 599.7h-8M279.9 753.3v8M142.4 596.2h-8M283.3 753.3v12.5M142.4 593.0h-12.5M305.4 753.3v8M142.4 572.0h-8M318.3 753.3v8M142.4 559.8h-8M327.4 753.3v8M142.4 551.1h-8M334.5 753.3v8M142.4 544.4h-8M340.3 753.3v8M142.4 538.8h-8M345.2 753.3v8M142.4 534.2h-8M349.5 753.3v8M142.4 530.1h-8M353.2 753.3v8M142.4 526.6h-8M356.6 753.3v12.5M142.4 523.4h-12.5M378.7 753.3v8M142.4 502.4h-8M391.6 753.3v8M142.4 490.2h-8M400.7 753.3v8M142.4 481.5h-8M407.8 753.3v8M142.4 474.8h-8M413.6 753.3v8M142.4 469.2h-8M418.5 753.3v8M142.4 464.6h-8M422.8 753.3v8M142.4 460.5h-8M426.5 753.3v8M142.4 457.0h-8M429.9 753.3v12.5M142.4 453.8h-12.5M452.0 753.3v8M142.4 432.8h-8M464.9 753.3v8M142.4 420.6h-8M474.0 753.3v8M142.4 411.9h-8M481.1 753.3v8M142.4 405.2h-8M486.9 753.3v8M142.4 399.6h-8M491.8 753.3v8M142.4 395.0h-8M496.1 753.3v8M142.4 390.9h-8M499.8 753.3v8M142.4 387.4h-8M503.2 753.3v12.5M142.4 384.2h-12.5M525.3 753.3v8M142.4 363.2h-8M538.2 753.3v8M142.4 351.0h-8M547.3 753.3v8M142.4 342.3h-8M554.4 753.3v8M142.4 335.6h-8M560.2 753.3v8M142.4 330.0h-8M565.1 753.3v8M142.4 325.4h-8M569.4 753.3v8M142.4 321.3h-8M573.1 753.3v8M142.4 317.8h-8M576.5 753.3v12.5M142.4 314.6h-12.5M598.6 753.3v8M142.4 293.6h-8M611.5 753.3v8M142.4 281.4h-8M620.6 753.3v8M142.4 272.7h-8M627.7 753.3v8M142.4 266.0h-8M633.5 753.3v8M142.4 260.4h-8M638.4 753.3v8M142.4 255.8h-8M642.7 753.3v8M142.4 251.7h-8M646.4 753.3v8M142.4 248.2h-8M646.4 753.3v12.5M142.4 248.2h-12.5" stroke="#111" stroke-width="1.8" fill="none"/><path d="M142.4 248.2V753.3H646.4" stroke="#111" stroke-width="2.4" fill="none"/><path d="M142.4 248.2H646.4V753.3" stroke="#222" stroke-width="2" fill="none"/>
<g font-family="'Liberation Sans', Arial, sans-serif" font-size="26" fill="#161616" stroke="#161616" stroke-width="0.6"><text x="142.4" y="797.2" text-anchor="middle">0</text><text x="192.5" y="797.2">10<tspan font-size="19" dx="0.8" dy="-12">1</tspan></text><text x="265.8" y="797.2">10<tspan font-size="19" dx="0.8" dy="-12">2</tspan></text><text x="339.1" y="797.2">10<tspan font-size="19" dx="0.8" dy="-12">3</tspan></text><text x="412.4" y="797.2">10<tspan font-size="19" dx="0.8" dy="-12">4</tspan></text><text x="485.7" y="797.2">10<tspan font-size="19" dx="0.8" dy="-12">5</tspan></text><text x="559.0" y="797.2">10<tspan font-size="19" dx="0.8" dy="-12">6</tspan></text><text transform="translate(117.8,753.3) rotate(-90)" text-anchor="middle">0</text><text transform="translate(117.8,680.8) rotate(-90)">10<tspan font-size="19" dx="0.8" dy="-12">1</tspan></text><text transform="translate(117.8,611.2) rotate(-90)">10<tspan font-size="19" dx="0.8" dy="-12">2</tspan></text><text transform="translate(117.8,541.6) rotate(-90)">10<tspan font-size="19" dx="0.8" dy="-12">3</tspan></text><text transform="translate(117.8,472.0) rotate(-90)">10<tspan font-size="19" dx="0.8" dy="-12">4</tspan></text><text transform="translate(117.8,402.4) rotate(-90)">10<tspan font-size="19" dx="0.8" dy="-12">5</tspan></text><text transform="translate(117.8,332.8) rotate(-90)">10<tspan font-size="19" dx="0.8" dy="-12">6</tspan></text></g><rect x="147.4" y="716.3" width="180" height="28" fill="#fff" fill-opacity="0.7"/><g font-family="'Liberation Sans', Arial, sans-serif" font-size="26.2" fill="#161616" stroke="#161616" stroke-width="0.75"><text x="149.9" y="281.2">Q2-UL(0.73%)</text><text x="637.4" y="281.2" text-anchor="end">Q2-UR(0.13%)</text><text x="149.9" y="738.5">Q2-LL(98.91%)</text><text x="637.4" y="738.5" text-anchor="end">Q2-LR(0.23%)</text></g>
<g fill="none" stroke-width="2.6" stroke-linecap="square"><path d="M934 453h0M1026 459h0M1004 467h0M1026 467h0M1038 469h0M964 471h0M990 471h0M1016 471h0M1036 471h0M1006 473h0M1018 473h0M956 475h0M1000 475h0M1010 475h0M916 477h0M1014 477h0M1036 477h0M974 479h0M1002 479h0M1014 479h0M1032 479h0M968 481h0M1010 481h0M1018 481h0M1024 481h0M1032 481h0M1046 481h0M986 483h0M1000 483h0M1002 483h0M1008 483h0M1010 483h0M1018 483h0M1032 483h0M1040 483h0M1068 483h0M930 485h0M990 485h0M1002 485h0M1026 485h0M1036 485h0M900 487h0M946 487h0M972 487h0M996 487h0M1000 487h0M1002 487h0M1010 487h0M1046 487h0M1052 487h0M944 489h0M958 489h0M968 489h0M972 489h0M984 489h0M1014 489h0M1016 489h0M1022 489h0M1024 489h0M1060 489h0M876 491h0M900 491h0M902 491h0M906 491h0M916 491h0M918 491h0M932 491h0M950 491h0M956 491h0M960 491h0M968 491h0M976 491h0M980 491h0M990 491h0M996 491h0M998 491h0M1006 491h0M1040 491h0M1048 491h0M898 493h0M906 493h0M916 493h0M920 493h0M926 493h0M932 493h0M954 493h0M958 493h0M960 493h0M976 493h0M980 493h0M982 493h0M986 493h0M992 493h0M994 493h0M996 493h0M1000 493h0M1006 493h0M1012 493h0M1014 493h0M1020 493h0M1024 493h0M1030 493h0M1040 493h0M1042 493h0M860 495h0M930 495h0M948 495h0M952 495h0M958 495h0M962 495h0M976 495h0M986 495h0M990 495h0M998 495h0M1016 495h0M1020 495h0M1024 495h0M1026 495h0M1028 495h0M1030 495h0M1066 495h0M780 497h0M876 497h0M916 497h0M924 497h0M930 497h0M932 497h0M938 497h0M960 497h0M966 497h0M968 497h0M970 497h0M972 497h0M974 497h0M980 497h0M984 497h0M986 497h0M990 497h0M996 497h0M1000 497h0M1010 497h0M1012 497h0M1016 497h0M1022 497h0M1024 497h0M1032 497h0M1036 497h0M1040 497h0M880 499h0M882 499h0M894 499h0M904 499h0M918 499h0M938 499h0M944 499h0M948 499h0M954 499h0M958 499h0M964 499h0M976 499h0M980 499h0M982 499h0M990 499h0M992 499h0M996 499h0M998 499h0M1018 499h0M1024 499h0M1044 499h0M874 501h0M896 501h0M910 501h0M918 501h0M930 501h0M946 501h0M952 501h0M954 501h0M982 501h0M988 501h0M994 501h0M1002 501h0M1004 501h0M1006 501h0M1008 501h0M1010 501h0M1016 501h0M1022 501h0M1028 501h0M1030 501h0M808 503h0M832 503h0M914 503h0M918 503h0M924 503h0M926 503h0M932 503h0M934 503h0M936 503h0M940 503h0M946 503h0M948 503h0M968 503h0M970 503h0M978 503h0M982 503h0M988 503h0M990 503h0M992 503h0M994 503h0M1006 503h0M1010 503h0M1020 503h0M1026 503h0M1028 503h0M1046 503h0M1050 503h0M882 505h0M890 505h0M902 505h0M910 505h0M914 505h0M922 505h0M928 505h0M934 505h0M952 505h0M956 505h0M958 505h0M990 505h0M992 505h0M1010 505h0M1014 505h0M1026 505h0M1030 505h0M1036 505h0M808 507h0M886 507h0M890 507h0M900 507h0M906 507h0M914 507h0M916 507h0M918 507h0M928 507h0M940 507h0M946 507h0M958 507h0M962 507h0M968 507h0M990 507h0M996 507h0M998 507h0M1004 507h0M1010 507h0M1022 507h0M1026 507h0M1030 507h0M1050 507h0M864 509h0M892 509h0M894 509h0M896 509h0M908 509h0M910 509h0M928 509h0M940 509h0M988 509h0M994 509h0M1002 509h0M1006 509h0M1010 509h0M1020 509h0M776 511h0M850 511h0M894 511h0M898 511h0M902 511h0M922 511h0M924 511h0M932 511h0M994 511h0M998 511h0M1008 511h0M1010 511h0M1012 511h0M1014 511h0M1016 511h0M1024 511h0M1026 511h0M1032 511h0M1036 511h0M786 513h0M882 513h0M890 513h0M904 513h0M910 513h0M916 513h0M936 513h0M976 513h0M986 513h0M996 513h0M1008 513h0M1014 513h0M1018 513h0M1020 513h0M1022 513h0M1026 513h0M786 515h0M880 515h0M886 515h0M898 515h0M904 515h0M908 515h0M912 515h0M916 515h0M928 515h0M930 515h0M980 515h0M988 515h0M990 515h0M998 515h0M1000 515h0M1002 515h0M1004 515h0M1006 515h0M1012 515h0M1016 515h0M1018 515h0M1026 515h0M1028 515h0M1034 515h0M876 517h0M892 517h0M894 517h0M918 517h0M934 517h0M994 517h0M996 517h0M1004 517h0M1012 517h0M1016 517h0M1022 517h0M1026 517h0M1032 517h0M1036 517h0M1040 517h0M848 519h0M856 519h0M876 519h0M890 519h0M892 519h0M896 519h0M898 519h0M902 519h0M912 519h0M916 519h0M918 519h0M920 519h0M924 519h0M928 519h0M934 519h0M978 519h0M986 519h0M994 519h0M996 519h0M1002 519h0M1014 519h0M1016 519h0M1036 519h0M1054 519h0M844 521h0M878 521h0M880 521h0M882 521h0M884 521h0M886 521h0M896 521h0M904 521h0M906 521h0M912 521h0M926 521h0M956 521h0M974 521h0M986 521h0M994 521h0M1002 521h0M1004 521h0M1006 521h0M1050 521h0M800 523h0M858 523h0M862 523h0M872 523h0M878 523h0M890 523h0M892 523h0M896 523h0M904 523h0M908 523h0M916 523h0M928 523h0M976 523h0M978 523h0M984 523h0M986 523h0M988 523h0M990 523h0M992 523h0M998 523h0M1028 523h0M1038 523h0M890 525h0M894 525h0M900 525h0M906 525h0M912 525h0M922 525h0M974 525h0M980 525h0M984 525h0M988 525h0M990 525h0M994 525h0M1000 525h0M814 527h0M872 527h0M882 527h0M884 527h0M890 527h0M894 527h0M896 527h0M904 527h0M914 527h0M962 527h0M964 527h0M970 527h0M974 527h0M980 527h0M986 527h0M990 527h0M996 527h0M1020 527h0M768 529h0M816 529h0M820 529h0M848 529h0M856 529h0M868 529h0M876 529h0M882 529h0M902 529h0M904 529h0M910 529h0M916 529h0M924 529h0M948 529h0M958 529h0M962 529h0M972 529h0M978 529h0M980 529h0M984 529h0M986 529h0M990 529h0M1000 529h0M1020 529h0M1032 529h0M796 531h0M828 531h0M840 531h0M872 531h0M874 531h0M882 531h0M890 531h0M894 531h0M896 531h0M918 531h0M928 531h0M948 531h0M964 531h0M968 531h0M972 531h0M976 531h0M986 531h0M996 531h0M832 533h0M842 533h0M850 533h0M858 533h0M860 533h0M874 533h0M878 533h0M892 533h0M896 533h0M898 533h0M906 533h0M912 533h0M914 533h0M928 533h0M944 533h0M946 533h0M950 533h0M952 533h0M962 533h0M970 533h0M974 533h0M978 533h0M988 533h0M990 533h0M1026 533h0M782 535h0M798 535h0M828 535h0M874 535h0M880 535h0M888 535h0M890 535h0M894 535h0M896 535h0M898 535h0M912 535h0M924 535h0M928 535h0M936 535h0M938 535h0M956 535h0M958 535h0M960 535h0M972 535h0M974 535h0M980 535h0M982 535h0M984 535h0M1002 535h0M810 537h0M818 537h0M846 537h0M860 537h0M864 537h0M868 537h0M874 537h0M884 537h0M888 537h0M892 537h0M894 537h0M896 537h0M898 537h0M906 537h0M908 537h0M910 537h0M912 537h0M916 537h0M934 537h0M938 537h0M946 537h0M948 537h0M970 537h0M982 537h0M984 537h0M988 537h0M1024 537h0M788 539h0M814 539h0M838 539h0M872 539h0M874 539h0M878 539h0M880 539h0M882 539h0M886 539h0M890 539h0M892 539h0M896 539h0M900 539h0M904 539h0M908 539h0M916 539h0M928 539h0M946 539h0M952 539h0M964 539h0M974 539h0M998 539h0M808 541h0M812 541h0M852 541h0M864 541h0M870 541h0M876 541h0M878 541h0M898 541h0M902 541h0M904 541h0M908 541h0M910 541h0M920 541h0M950 541h0M952 541h0M954 541h0M956 541h0M962 541h0M970 541h0M998 541h0M798 543h0M848 543h0M852 543h0M856 543h0M860 543h0M868 543h0M876 543h0M892 543h0M894 543h0M900 543h0M904 543h0M906 543h0M908 543h0M914 543h0M920 543h0M924 543h0M928 543h0M940 543h0M942 543h0M948 543h0M950 543h0M952 543h0M954 543h0M962 543h0M968 543h0M984 543h0M1002 543h0M1006 543h0M798 545h0M810 545h0M848 545h0M868 545h0M876 545h0M878 545h0M886 545h0M904 545h0M920 545h0M922 545h0M926 545h0M928 545h0M932 545h0M942 545h0M948 545h0M952 545h0M954 545h0M956 545h0M962 545h0M970 545h0M980 545h0M988 545h0M996 545h0M818 547h0M862 547h0M864 547h0M868 547h0M880 547h0M892 547h0M908 547h0M910 547h0M912 547h0M918 547h0M928 547h0M934 547h0M954 547h0M956 547h0M964 547h0M974 547h0M986 547h0M990 547h0M1002 547h0M774 549h0M784 549h0M786 549h0M788 549h0M840 549h0M852 549h0M868 549h0M872 549h0M884 549h0M886 549h0M890 549h0M900 549h0M938 549h0M944 549h0M964 549h0M968 549h0M972 549h0M982 549h0M992 549h0M818 551h0M826 551h0M838 551h0M846 551h0M848 551h0M858 551h0M860 551h0M864 551h0M866 551h0M874 551h0M878 551h0M880 551h0M882 551h0M886 551h0M888 551h0M892 551h0M898 551h0M928 551h0M936 551h0M938 551h0M948 551h0M950 551h0M956 551h0M958 551h0M960 551h0M968 551h0M970 551h0M972 551h0M984 551h0M994 551h0M808 553h0M842 553h0M872 553h0M882 553h0M886 553h0M894 553h0M898 553h0M902 553h0M906 553h0M932 553h0M944 553h0M956 553h0M962 553h0M968 553h0M970 553h0M972 553h0M974 553h0M986 553h0M996 553h0M832 555h0M850 555h0M860 555h0M866 555h0M868 555h0M872 555h0M880 555h0M884 555h0M892 555h0M896 555h0M900 555h0M920 555h0M928 555h0M940 555h0M950 555h0M952 555h0M954 555h0M960 555h0M964 555h0M976 555h0M978 555h0M770 557h0M826 557h0M848 557h0M850 557h0M858 557h0M868 557h0M874 557h0M876 557h0M894 557h0M896 557h0M900 557h0M906 557h0M908 557h0M922 557h0M926 557h0M940 557h0M948 557h0M968 557h0M970 557h0M996 557h0M760 559h0M776 559h0M782 559h0M850 559h0M860 559h0M864 559h0M866 559h0M872 559h0M874 559h0M876 559h0M890 559h0M894 559h0M896 559h0M898 559h0M920 559h0M922 559h0M938 559h0M948 559h0M956 559h0M962 559h0M964 559h0M970 559h0M974 559h0M978 559h0M982 559h0M986 559h0M1002 559h0M1004 559h0M1020 559h0M772 561h0M778 561h0M796 561h0M828 561h0M838 561h0M844 561h0M848 561h0M864 561h0M866 561h0M868 561h0M878 561h0M880 561h0M882 561h0M888 561h0M890 561h0M900 561h0M958 561h0M962 561h0M966 561h0M974 561h0M978 561h0M806 563h0M856 563h0M858 563h0M872 563h0M876 563h0M886 563h0M892 563h0M894 563h0M904 563h0M912 563h0M916 563h0M918 563h0M930 563h0M938 563h0M940 563h0M946 563h0M948 563h0M954 563h0M964 563h0M968 563h0M970 563h0M974 563h0M976 563h0M824 565h0M838 565h0M852 565h0M860 565h0M870 565h0M892 565h0M902 565h0M904 565h0M910 565h0M926 565h0M936 565h0M938 565h0M944 565h0M950 565h0M952 565h0M962 565h0M964 565h0M972 565h0M984 565h0M820 567h0M854 567h0M870 567h0M872 567h0M874 567h0M880 567h0M884 567h0M886 567h0M888 567h0M892 567h0M894 567h0M902 567h0M914 567h0M928 567h0M944 567h0M950 567h0M952 567h0M954 567h0M960 567h0M962 567h0M972 567h0M768 569h0M796 569h0M812 569h0M842 569h0M848 569h0M856 569h0M872 569h0M878 569h0M890 569h0M892 569h0M896 569h0M900 569h0M902 569h0M930 569h0M932 569h0M934 569h0M938 569h0M944 569h0M952 569h0M956 569h0M976 569h0M978 569h0M990 569h0M806 571h0M852 571h0M854 571h0M860 571h0M874 571h0M876 571h0M882 571h0M886 571h0M888 571h0M898 571h0M926 571h0M932 571h0M950 571h0M952 571h0M964 571h0M970 571h0M980 571h0M778 573h0M842 573h0M844 573h0M848 573h0M856 573h0M862 573h0M864 573h0M868 573h0M874 573h0M876 573h0M880 573h0M884 573h0M892 573h0M898 573h0M926 573h0M932 573h0M936 573h0M938 573h0M942 573h0M946 573h0M954 573h0M956 573h0M784 575h0M800 575h0M830 575h0M846 575h0M856 575h0M860 575h0M870 575h0M888 575h0M890 575h0M904 575h0M906 575h0M910 575h0M918 575h0M930 575h0M934 575h0M936 575h0M940 575h0M942 575h0M944 575h0M948 575h0M950 575h0M952 575h0M954 575h0M964 575h0M968 575h0M970 575h0M982 575h0M806 577h0M822 577h0M858 577h0M860 577h0M874 577h0M886 577h0M888 577h0M894 577h0M902 577h0M908 577h0M910 577h0M920 577h0M934 577h0M940 577h0M942 577h0M944 577h0M952 577h0M970 577h0M810 579h0M816 579h0M828 579h0M844 579h0M846 579h0M852 579h0M862 579h0M864 579h0M870 579h0M872 579h0M876 579h0M884 579h0M886 579h0M888 579h0M890 579h0M898 579h0M914 579h0M932 579h0M934 579h0M936 579h0M940 579h0M944 579h0M946 579h0M954 579h0M958 579h0M966 579h0M972 579h0M976 579h0M1000 579h0M818 581h0M832 581h0M842 581h0M852 581h0M864 581h0M876 581h0M884 581h0M886 581h0M888 581h0M894 581h0M898 581h0M906 581h0M908 581h0M922 581h0M926 581h0M932 581h0M934 581h0M946 581h0M948 581h0M952 581h0M972 581h0M982 581h0M770 583h0M818 583h0M834 583h0M838 583h0M840 583h0M846 583h0M852 583h0M860 583h0M870 583h0M872 583h0M880 583h0M882 583h0M884 583h0M886 583h0M888 583h0M916 583h0M918 583h0M924 583h0M928 583h0M940 583h0M944 583h0M946 583h0M952 583h0M954 583h0M958 583h0M978 583h0M786 585h0M812 585h0M840 585h0M846 585h0M848 585h0M854 585h0M858 585h0M860 585h0M876 585h0M892 585h0M896 585h0M904 585h0M906 585h0M908 585h0M910 585h0M918 585h0M922 585h0M924 585h0M948 585h0M952 585h0M964 585h0M972 585h0M784 587h0M818 587h0M834 587h0M838 587h0M840 587h0M848 587h0M868 587h0M878 587h0M894 587h0M900 587h0M908 587h0M910 587h0M914 587h0M916 587h0M922 587h0M936 587h0M944 587h0M950 587h0M954 587h0M958 587h0M962 587h0M990 587h0M858 589h0M878 589h0M892 589h0M898 589h0M902 589h0M916 589h0M926 589h0M936 589h0M946 589h0M964 589h0M782 591h0M792 591h0M842 591h0M850 591h0M860 591h0M870 591h0M872 591h0M878 591h0M880 591h0M884 591h0M890 591h0M894 591h0M930 591h0M938 591h0M944 591h0M946 591h0M948 591h0M954 591h0M958 591h0M962 591h0M796 593h0M844 593h0M852 593h0M862 593h0M864 593h0M866 593h0M872 593h0M878 593h0M882 593h0M888 593h0M892 593h0M898 593h0M902 593h0M904 593h0M906 593h0M910 593h0M918 593h0M920 593h0M922 593h0M926 593h0M936 593h0M938 593h0M942 593h0M944 593h0M946 593h0M948 593h0M952 593h0M956 593h0M960 593h0M980 593h0M826 595h0M840 595h0M848 595h0M874 595h0M882 595h0M894 595h0M896 595h0M898 595h0M908 595h0M910 595h0M912 595h0M920 595h0M922 595h0M932 595h0M934 595h0M936 595h0M942 595h0M944 595h0M950 595h0M954 595h0M958 595h0M964 595h0M968 595h0M816 597h0M854 597h0M868 597h0M870 597h0M872 597h0M874 597h0M884 597h0M886 597h0M894 597h0M898 597h0M902 597h0M904 597h0M908 597h0M922 597h0M924 597h0M936 597h0M952 597h0M962 597h0M970 597h0M784 599h0M812 599h0M836 599h0M848 599h0M860 599h0M862 599h0M872 599h0M880 599h0M882 599h0M890 599h0M902 599h0M910 599h0M920 599h0M926 599h0M928 599h0M930 599h0M938 599h0M940 599h0M944 599h0M950 599h0M958 599h0M978 599h0M768 601h0M796 601h0M864 601h0M870 601h0M872 601h0M874 601h0M880 601h0M882 601h0M890 601h0M892 601h0M896 601h0M898 601h0M902 601h0M904 601h0M906 601h0M916 601h0M918 601h0M922 601h0M926 601h0M930 601h0M932 601h0M938 601h0M940 601h0M942 601h0M950 601h0M954 601h0M966 601h0M764 603h0M818 603h0M826 603h0M834 603h0M850 603h0M854 603h0M900 603h0M904 603h0M912 603h0M916 603h0M918 603h0M922 603h0M928 603h0M932 603h0M936 603h0M964 603h0M822 605h0M862 605h0M878 605h0M898 605h0M902 605h0M904 605h0M908 605h0M914 605h0M918 605h0M920 605h0M926 605h0M930 605h0M936 605h0M938 605h0M942 605h0M962 605h0M996 605h0M800 607h0M862 607h0M868 607h0M874 607h0M878 607h0M884 607h0M890 607h0M898 607h0M910 607h0M912 607h0M914 607h0M922 607h0M928 607h0M938 607h0M940 607h0M942 607h0M946 607h0M948 607h0M964 607h0M998 607h0M792 609h0M874 609h0M876 609h0M878 609h0M890 609h0M892 609h0M896 609h0M898 609h0M902 609h0M928 609h0M934 609h0M940 609h0M954 609h0M964 609h0M870 611h0M876 611h0M886 611h0M888 611h0M894 611h0M896 611h0M908 611h0M912 611h0M914 611h0M916 611h0M918 611h0M920 611h0M924 611h0M936 611h0M938 611h0M976 611h0M828 613h0M832 613h0M840 613h0M856 613h0M878 613h0M888 613h0M892 613h0M894 613h0M896 613h0M906 613h0M918 613h0M920 613h0M926 613h0M930 613h0M936 613h0M948 613h0M954 613h0M970 613h0M976 613h0M840 615h0M876 615h0M886 615h0M896 615h0M902 615h0M904 615h0M906 615h0M908 615h0M944 615h0M956 615h0M978 615h0M860 617h0M874 617h0M878 617h0M884 617h0M892 617h0M894 617h0M904 617h0M912 617h0M918 617h0M922 617h0M924 617h0M928 617h0M932 617h0M936 617h0M952 617h0M838 619h0M852 619h0M868 619h0M872 619h0M884 619h0M888 619h0M890 619h0M892 619h0M926 619h0M942 619h0M952 619h0M956 619h0M958 619h0M980 619h0M774 621h0M824 621h0M868 621h0M874 621h0M894 621h0M896 621h0M910 621h0M912 621h0M936 621h0M938 621h0M946 621h0M958 621h0M804 623h0M858 623h0M862 623h0M882 623h0M898 623h0M902 623h0M904 623h0M916 623h0M928 623h0M930 623h0M934 623h0M938 623h0M840 625h0M868 625h0M880 625h0M894 625h0M920 625h0M924 625h0M930 625h0M946 625h0M950 625h0M862 627h0M888 627h0M900 627h0M906 627h0M910 627h0M914 627h0M922 627h0M926 627h0M932 627h0M934 627h0M946 627h0M860 629h0M898 629h0M906 629h0M908 629h0M912 629h0M872 631h0M954 631h0M876 633h0M902 633h0M914 633h0M936 633h0M952 633h0M862 635h0M878 635h0M908 635h0M918 635h0M924 635h0M940 635h0M866 637h0M872 637h0M874 637h0M904 637h0M912 637h0M922 637h0M924 637h0M936 637h0M938 637h0M942 637h0M944 637h0M874 639h0M876 639h0M894 639h0M912 639h0M914 639h0M918 639h0M940 639h0M766 641h0M852 641h0M910 641h0M912 641h0M922 641h0M944 641h0M866 643h0M878 643h0M894 643h0M914 643h0M920 643h0M840 645h0M860 645h0M922 645h0M926 645h0M950 645h0M898 647h0M890 649h0M908 649h0M922 649h0M928 649h0M932 649h0M918 651h0M924 651h0M926 651h0M858 653h0M892 653h0M902 653h0M916 653h0M918 653h0M928 653h0M938 653h0M954 653h0M968 653h0M972 653h0M914 655h0M916 655h0M930 655h0M890 657h0M896 657h0M900 657h0M920 657h0M926 657h0M948 657h0M894 659h0M902 659h0M908 659h0M920 659h0M936 659h0M936 661h0M944 661h0M904 663h0M906 663h0M926 663h0M934 663h0M922 665h0M926 665h0M958 665h0M948 667h0M910 669h0M944 669h0M914 671h0M916 671h0M930 671h0M944 671h0M964 671h0M918 673h0M980 673h0M898 675h0M908 675h0M918 675h0M954 677h0M892 679h0M926 679h0M894 681h0M900 681h0M916 683h0M896 685h0M948 685h0M890 689h0M900 691h0M906 691h0M926 693h0M930 693h0M910 695h0M920 697h0M924 697h0M892 701h0M912 701h0M958 701h0M932 703h0M892 707h0M920 707h0M904 713h0M904 715h0M980 719h0M958 739h0" stroke="rgb(10,10,255)"/><path d="M1014 483h0M1004 491h0M1012 491h0M1016 491h0M1020 491h0M1024 491h0M1034 491h0M968 493h0M970 493h0M904 495h0M908 495h0M932 495h0M966 495h0M970 495h0M972 495h0M980 495h0M984 495h0M992 495h0M940 497h0M948 497h0M958 497h0M982 497h0M988 497h0M998 497h0M1002 497h0M1014 497h0M1052 497h0M922 499h0M970 499h0M994 499h0M1000 499h0M1006 499h0M1012 499h0M1016 499h0M1022 499h0M924 501h0M940 501h0M942 501h0M958 501h0M974 501h0M976 501h0M996 501h0M1018 501h0M942 503h0M950 503h0M960 503h0M976 503h0M986 503h0M1004 503h0M930 505h0M932 505h0M936 505h0M940 505h0M946 505h0M950 505h0M984 505h0M986 505h0M1002 505h0M1004 505h0M1012 505h0M1016 505h0M922 507h0M924 507h0M932 507h0M934 507h0M942 507h0M954 507h0M972 507h0M974 507h0M982 507h0M1002 507h0M1014 507h0M914 509h0M922 509h0M930 509h0M936 509h0M942 509h0M952 509h0M986 509h0M992 509h0M1018 509h0M926 511h0M928 511h0M938 511h0M990 511h0M996 511h0M1000 511h0M1018 511h0M892 513h0M912 513h0M914 513h0M922 513h0M928 513h0M930 513h0M932 513h0M934 513h0M946 513h0M994 513h0M1000 513h0M902 515h0M910 515h0M914 515h0M918 515h0M924 515h0M976 515h0M986 515h0M1010 515h0M908 517h0M912 517h0M914 517h0M922 517h0M924 517h0M932 517h0M964 517h0M990 517h0M904 519h0M906 519h0M914 519h0M980 519h0M988 519h0M990 519h0M992 519h0M908 521h0M914 521h0M916 521h0M918 521h0M920 521h0M924 521h0M928 521h0M930 521h0M938 521h0M970 521h0M972 521h0M982 521h0M984 521h0M996 521h0M1012 521h0M902 523h0M906 523h0M910 523h0M922 523h0M924 523h0M930 523h0M934 523h0M944 523h0M966 523h0M968 523h0M982 523h0M1018 523h0M872 525h0M886 525h0M898 525h0M904 525h0M908 525h0M914 525h0M924 525h0M928 525h0M978 525h0M888 527h0M892 527h0M902 527h0M906 527h0M908 527h0M918 527h0M938 527h0M968 527h0M880 529h0M896 529h0M914 529h0M920 529h0M952 529h0M954 529h0M964 529h0M966 529h0M968 529h0M970 529h0M974 529h0M868 531h0M908 531h0M922 531h0M952 531h0M954 531h0M958 531h0M1008 531h0M894 533h0M900 533h0M902 533h0M910 533h0M918 533h0M932 533h0M934 533h0M936 533h0M938 533h0M956 533h0M968 533h0M972 533h0M1006 533h0M872 535h0M884 535h0M886 535h0M900 535h0M904 535h0M910 535h0M934 535h0M940 535h0M946 535h0M950 535h0M954 535h0M962 535h0M968 535h0M900 537h0M920 537h0M928 537h0M944 537h0M958 537h0M964 537h0M966 537h0M968 537h0M972 537h0M978 537h0M834 539h0M888 539h0M906 539h0M918 539h0M924 539h0M926 539h0M934 539h0M954 539h0M956 539h0M962 539h0M966 539h0M990 539h0M872 541h0M892 541h0M914 541h0M928 541h0M930 541h0M946 541h0M958 541h0M976 541h0M838 543h0M878 543h0M898 543h0M902 543h0M910 543h0M912 543h0M918 543h0M926 543h0M936 543h0M938 543h0M944 543h0M956 543h0M960 543h0M862 545h0M888 545h0M892 545h0M894 545h0M900 545h0M908 545h0M936 545h0M940 545h0M950 545h0M960 545h0M966 545h0M890 547h0M894 547h0M898 547h0M940 547h0M942 547h0M948 547h0M950 547h0M952 547h0M960 547h0M972 547h0M984 547h0M810 549h0M876 549h0M888 549h0M894 549h0M902 549h0M904 549h0M906 549h0M912 549h0M916 549h0M922 549h0M928 549h0M940 549h0M950 549h0M984 549h0M988 549h0M890 551h0M902 551h0M904 551h0M908 551h0M910 551h0M912 551h0M918 551h0M930 551h0M932 551h0M934 551h0M952 551h0M964 551h0M876 553h0M878 553h0M888 553h0M890 553h0M892 553h0M896 553h0M912 553h0M918 553h0M920 553h0M924 553h0M942 553h0M946 553h0M950 553h0M952 553h0M858 555h0M870 555h0M888 555h0M904 555h0M922 555h0M938 555h0M944 555h0M946 555h0M870 557h0M884 557h0M886 557h0M888 557h0M892 557h0M898 557h0M912 557h0M918 557h0M924 557h0M932 557h0M936 557h0M942 557h0M946 557h0M954 557h0M964 557h0M878 559h0M886 559h0M888 559h0M892 559h0M902 559h0M910 559h0M918 559h0M926 559h0M932 559h0M942 559h0M946 559h0M950 559h0M954 559h0M960 559h0M966 559h0M976 559h0M858 561h0M876 561h0M884 561h0M886 561h0M896 561h0M902 561h0M912 561h0M914 561h0M916 561h0M920 561h0M924 561h0M932 561h0M950 561h0M952 561h0M964 561h0M896 563h0M908 563h0M914 563h0M924 563h0M926 563h0M928 563h0M936 563h0M958 563h0M960 563h0M868 565h0M872 565h0M878 565h0M880 565h0M888 565h0M894 565h0M898 565h0M900 565h0M908 565h0M948 565h0M956 565h0M958 565h0M974 565h0M980 565h0M852 567h0M878 567h0M898 567h0M900 567h0M904 567h0M908 567h0M912 567h0M924 567h0M932 567h0M938 567h0M940 567h0M942 567h0M956 567h0M970 567h0M854 569h0M862 569h0M876 569h0M882 569h0M884 569h0M886 569h0M898 569h0M918 569h0M936 569h0M942 569h0M946 569h0M958 569h0M970 569h0M884 571h0M892 571h0M894 571h0M896 571h0M900 571h0M902 571h0M912 571h0M918 571h0M920 571h0M928 571h0M930 571h0M938 571h0M942 571h0M946 571h0M956 571h0M958 571h0M870 573h0M896 573h0M904 573h0M906 573h0M908 573h0M916 573h0M918 573h0M920 573h0M922 573h0M934 573h0M944 573h0M958 573h0M962 573h0M972 573h0M842 575h0M886 575h0M898 575h0M900 575h0M912 575h0M914 575h0M926 575h0M932 575h0M938 575h0M946 575h0M866 577h0M868 577h0M880 577h0M882 577h0M890 577h0M906 577h0M928 577h0M930 577h0M932 577h0M936 577h0M946 577h0M950 577h0M958 577h0M966 577h0M858 579h0M878 579h0M900 579h0M902 579h0M904 579h0M912 579h0M924 579h0M928 579h0M942 579h0M874 581h0M892 581h0M896 581h0M916 581h0M924 581h0M928 581h0M940 581h0M942 581h0M962 581h0M964 581h0M978 581h0M858 583h0M874 583h0M890 583h0M892 583h0M900 583h0M910 583h0M920 583h0M926 583h0M938 583h0M950 583h0M956 583h0M960 583h0M888 585h0M900 585h0M912 585h0M914 585h0M916 585h0M926 585h0M928 585h0M932 585h0M934 585h0M938 585h0M940 585h0M942 585h0M946 585h0M890 587h0M898 587h0M906 587h0M918 587h0M920 587h0M924 587h0M926 587h0M940 587h0M864 589h0M900 589h0M906 589h0M908 589h0M918 589h0M922 589h0M938 589h0M944 589h0M882 591h0M886 591h0M892 591h0M898 591h0M902 591h0M908 591h0M912 591h0M916 591h0M928 591h0M934 591h0M936 591h0M942 591h0M880 593h0M914 593h0M928 593h0M932 593h0M890 595h0M916 595h0M918 595h0M924 595h0M926 595h0M892 597h0M942 597h0M944 597h0M964 597h0M876 599h0M886 599h0M898 599h0M904 599h0M918 599h0M922 599h0M936 599h0M952 599h0M888 601h0M908 601h0M910 601h0M920 601h0M862 603h0M880 603h0M942 603h0M880 605h0M892 605h0M894 605h0M934 605h0M968 605h0M850 607h0M858 607h0M908 607h0M926 607h0M932 607h0M934 607h0M900 609h0M906 609h0M912 609h0M922 609h0M926 609h0M884 611h0M898 613h0M914 613h0M924 613h0M932 615h0M898 617h0M910 617h0M922 619h0M884 623h0M896 623h0M922 623h0M942 627h0M942 629h0M938 633h0M928 651h0M910 657h0M930 667h0" stroke="rgb(0,90,255)"/><path d="M936 491h0M988 491h0M1002 491h0M1014 491h0M988 493h0M988 495h0M1004 495h0M978 497h0M950 499h0M952 499h0M960 499h0M966 499h0M986 499h0M962 501h0M964 501h0M966 501h0M970 501h0M986 501h0M990 501h0M998 501h0M1034 501h0M954 503h0M958 503h0M962 503h0M964 503h0M980 503h0M998 503h0M1000 503h0M906 505h0M924 505h0M938 505h0M948 505h0M954 505h0M964 505h0M988 505h0M994 505h0M996 505h0M938 507h0M980 507h0M984 507h0M1012 507h0M934 509h0M938 509h0M944 509h0M948 509h0M954 509h0M958 509h0M960 509h0M962 509h0M966 509h0M980 509h0M984 509h0M990 509h0M940 511h0M944 511h0M946 511h0M956 511h0M960 511h0M978 511h0M1004 511h0M1006 511h0M1022 511h0M900 513h0M920 513h0M926 513h0M948 513h0M952 513h0M990 513h0M998 513h0M922 515h0M938 515h0M940 515h0M956 515h0M972 515h0M982 515h0M996 515h0M906 517h0M916 517h0M926 517h0M928 517h0M952 517h0M962 517h0M982 517h0M986 517h0M922 519h0M968 519h0M976 519h0M998 519h0M952 521h0M992 521h0M920 523h0M926 523h0M936 523h0M946 523h0M958 523h0M972 523h0M980 523h0M902 525h0M920 525h0M938 525h0M944 525h0M946 525h0M966 525h0M976 525h0M986 525h0M928 527h0M948 527h0M954 527h0M966 527h0M874 529h0M894 529h0M926 529h0M928 529h0M946 529h0M960 529h0M898 531h0M904 531h0M912 531h0M914 531h0M930 531h0M934 531h0M936 531h0M944 531h0M946 531h0M950 531h0M956 531h0M960 531h0M966 531h0M904 533h0M920 533h0M922 533h0M926 533h0M940 533h0M958 533h0M966 533h0M976 533h0M870 535h0M906 535h0M916 535h0M920 535h0M926 535h0M932 535h0M942 535h0M890 537h0M914 537h0M930 537h0M932 537h0M956 537h0M870 539h0M898 539h0M902 539h0M912 539h0M914 539h0M922 539h0M930 539h0M932 539h0M936 539h0M938 539h0M948 539h0M950 539h0M890 541h0M918 541h0M922 541h0M932 541h0M934 541h0M936 541h0M938 541h0M944 541h0M948 541h0M916 543h0M978 543h0M890 545h0M896 545h0M898 545h0M902 545h0M910 545h0M912 545h0M914 545h0M916 545h0M918 545h0M930 545h0M934 545h0M946 545h0M958 545h0M878 547h0M884 547h0M896 547h0M900 547h0M902 547h0M904 547h0M914 547h0M920 547h0M922 547h0M936 547h0M882 549h0M896 549h0M920 549h0M926 549h0M930 549h0M932 549h0M934 549h0M936 549h0M942 549h0M948 549h0M952 549h0M956 549h0M962 549h0M894 551h0M900 551h0M906 551h0M914 551h0M916 551h0M942 551h0M954 551h0M908 553h0M910 553h0M926 553h0M928 553h0M930 553h0M936 553h0M878 555h0M886 555h0M894 555h0M898 555h0M912 555h0M916 555h0M918 555h0M932 555h0M928 557h0M930 557h0M952 557h0M880 559h0M882 559h0M884 559h0M900 559h0M916 559h0M904 561h0M906 561h0M918 561h0M938 561h0M940 561h0M942 561h0M944 561h0M946 561h0M862 563h0M884 563h0M898 563h0M906 563h0M910 563h0M942 563h0M952 563h0M882 565h0M884 565h0M886 565h0M890 565h0M906 565h0M912 565h0M916 565h0M918 565h0M920 565h0M928 565h0M930 565h0M934 565h0M960 565h0M966 565h0M876 567h0M906 567h0M916 567h0M918 567h0M922 567h0M934 567h0M874 569h0M894 569h0M906 569h0M914 569h0M916 569h0M922 569h0M924 569h0M904 571h0M908 571h0M910 571h0M922 571h0M936 571h0M960 571h0M886 573h0M902 573h0M910 573h0M924 573h0M928 573h0M948 573h0M874 575h0M882 575h0M892 575h0M896 575h0M902 575h0M908 575h0M916 575h0M920 575h0M922 575h0M896 577h0M912 577h0M914 577h0M924 577h0M954 577h0M892 579h0M910 579h0M916 579h0M918 579h0M920 579h0M930 579h0M882 581h0M910 581h0M918 581h0M920 581h0M930 581h0M894 583h0M906 583h0M908 583h0M912 583h0M914 583h0M922 583h0M932 583h0M936 583h0M880 585h0M902 585h0M884 587h0M886 587h0M896 587h0M904 587h0M874 589h0M912 589h0M876 591h0M900 591h0M910 591h0M914 591h0M922 591h0M886 593h0M890 593h0M930 593h0M870 595h0M902 595h0M920 597h0M932 597h0M908 599h0M924 599h0M934 599h0M898 603h0M902 603h0M910 609h0M936 609h0M904 613h0M912 615h0M908 617h0" stroke="rgb(0,190,255)"/><path d="M968 499h0M968 501h0M978 501h0M980 501h0M944 503h0M952 503h0M966 503h0M974 503h0M942 505h0M960 505h0M962 505h0M966 505h0M970 505h0M972 505h0M974 505h0M976 505h0M982 505h0M936 507h0M944 507h0M948 507h0M952 507h0M960 507h0M976 507h0M978 507h0M988 507h0M946 509h0M950 509h0M956 509h0M964 509h0M974 509h0M976 509h0M978 509h0M998 509h0M934 511h0M936 511h0M948 511h0M954 511h0M970 511h0M976 511h0M980 511h0M986 511h0M988 511h0M992 511h0M938 513h0M944 513h0M950 513h0M968 513h0M970 513h0M978 513h0M984 513h0M988 513h0M992 513h0M926 515h0M932 515h0M934 515h0M942 515h0M954 515h0M960 515h0M994 515h0M930 517h0M938 517h0M940 517h0M942 517h0M946 517h0M974 517h0M978 517h0M980 517h0M984 517h0M988 517h0M992 517h0M908 519h0M930 519h0M932 519h0M950 519h0M960 519h0M966 519h0M974 519h0M982 519h0M984 519h0M934 521h0M944 521h0M962 521h0M966 521h0M980 521h0M912 523h0M932 523h0M938 523h0M942 523h0M950 523h0M962 523h0M970 523h0M974 523h0M918 525h0M926 525h0M932 525h0M948 525h0M956 525h0M958 525h0M960 525h0M964 525h0M970 525h0M910 527h0M912 527h0M924 527h0M926 527h0M930 527h0M934 527h0M940 527h0M942 527h0M944 527h0M950 527h0M956 527h0M960 527h0M888 529h0M918 529h0M934 529h0M936 529h0M938 529h0M940 529h0M942 529h0M944 529h0M950 529h0M956 529h0M910 531h0M916 531h0M920 531h0M924 531h0M938 531h0M942 531h0M908 533h0M916 533h0M924 533h0M930 533h0M942 533h0M948 533h0M954 533h0M960 533h0M902 535h0M908 535h0M918 535h0M922 535h0M930 535h0M948 535h0M952 535h0M966 535h0M904 537h0M922 537h0M924 537h0M940 537h0M942 537h0M950 537h0M954 537h0M920 539h0M942 539h0M958 539h0M884 541h0M900 541h0M912 541h0M940 541h0M942 541h0M922 543h0M930 543h0M932 543h0M958 543h0M924 545h0M924 547h0M926 547h0M930 547h0M946 547h0M892 549h0M908 549h0M910 549h0M914 549h0M918 549h0M924 549h0M954 549h0M920 551h0M922 551h0M940 551h0M944 551h0M946 551h0M884 553h0M904 553h0M922 553h0M934 553h0M940 553h0M948 553h0M890 555h0M910 555h0M914 555h0M930 555h0M936 555h0M948 555h0M904 557h0M910 557h0M914 557h0M916 557h0M934 557h0M944 557h0M950 557h0M956 557h0M906 559h0M908 559h0M914 559h0M924 559h0M928 559h0M930 559h0M934 559h0M894 561h0M898 561h0M908 561h0M910 561h0M926 561h0M930 561h0M934 561h0M936 561h0M948 561h0M888 563h0M900 563h0M902 563h0M920 563h0M934 563h0M956 563h0M896 565h0M922 565h0M942 565h0M882 567h0M910 567h0M920 567h0M936 567h0M904 569h0M910 569h0M920 569h0M926 569h0M928 569h0M940 569h0M950 569h0M890 571h0M906 571h0M916 571h0M934 571h0M882 573h0M890 573h0M912 573h0M894 575h0M924 575h0M928 575h0M892 577h0M900 577h0M904 577h0M916 577h0M922 577h0M906 579h0M922 579h0M926 579h0M902 581h0M904 581h0M912 581h0M938 581h0M898 583h0M902 583h0M904 583h0M930 583h0M890 585h0M894 585h0M920 585h0M930 587h0M924 589h0M932 589h0M940 591h0M900 593h0M934 593h0M914 595h0M890 597h0M914 597h0" stroke="rgb(0,245,230)"/><path d="M956 501h0M992 501h0M984 503h0M978 505h0M950 507h0M986 507h0M970 509h0M972 509h0M942 511h0M950 511h0M958 511h0M974 511h0M984 511h0M942 513h0M958 513h0M972 513h0M944 515h0M952 515h0M974 515h0M978 515h0M936 517h0M958 517h0M970 517h0M972 517h0M936 519h0M942 519h0M954 519h0M956 519h0M970 519h0M972 519h0M940 521h0M942 521h0M946 521h0M948 521h0M950 521h0M960 521h0M976 521h0M978 521h0M940 523h0M952 523h0M954 523h0M916 525h0M930 525h0M936 525h0M942 525h0M962 525h0M922 527h0M936 527h0M932 529h0M940 531h0M944 535h0M918 537h0M924 541h0M934 543h0M926 551h0M902 557h0M922 563h0M914 565h0M924 565h0M932 565h0M896 567h0M926 567h0M946 567h0M912 569h0" stroke="rgb(0,255,120)"/><path d="M980 505h0M970 507h0M992 507h0M982 511h0M954 513h0M960 513h0M966 513h0M980 513h0M936 515h0M946 515h0M964 515h0M966 515h0M956 517h0M976 517h0M926 519h0M938 519h0M940 519h0M952 519h0M962 519h0M932 521h0M958 521h0M968 521h0M948 523h0M940 525h0M950 525h0M930 529h0M926 531h0M932 531h0M936 537h0M932 547h0M944 547h0M900 553h0M926 555h0M942 555h0M920 557h0M938 557h0M908 579h0" stroke="rgb(0,255,30)"/><path d="M972 503h0M956 507h0M964 507h0M966 507h0M968 509h0M982 509h0M952 511h0M948 515h0M958 515h0M962 515h0M944 517h0M950 517h0M966 517h0M964 519h0M954 521h0M956 523h0M960 523h0M964 523h0M932 527h0M946 527h0M952 527h0M912 529h0" stroke="rgb(120,255,0)"/><path d="M966 511h0M968 511h0M972 511h0M962 513h0M964 513h0M950 515h0M970 515h0M948 517h0M954 517h0M960 517h0M968 517h0M944 519h0M946 519h0M948 519h0M958 519h0M936 521h0M934 525h0M952 525h0M954 525h0M958 527h0M936 559h0" stroke="rgb(220,255,0)"/><path d="M940 513h0M956 513h0" stroke="rgb(255,200,0)"/><path d="M962 511h0M974 513h0" stroke="rgb(255,120,0)"/><path d="M964 511h0M968 515h0M964 521h0" stroke="rgb(255,40,0)"/></g>
<path d="M1000.2 247.9V753.0M753.2 489.6H1254.9" stroke="#111" stroke-width="2.2" fill="none"/>
<path d="M753.2 753.0v12.5M753.2 753.0h-12.5M771.4 753.0v8M753.2 726.9h-8M783.0 753.0v8M753.2 709.8h-8M792.1 753.0v8M753.2 698.3h-8M798.9 753.0v8M753.2 690.3h-8M804.7 753.0v8M753.2 683.4h-8M809.5 753.0v8M753.2 678.5h-8M813.5 753.0v8M753.2 674.1h-8M816.5 753.0v8M753.2 669.9h-8M819.0 753.0v8M753.2 666.0h-8M820.8 753.0v12.5M753.2 662.3h-12.5M842.7 753.0v8M753.2 641.3h-8M855.6 753.0v8M753.2 629.1h-8M864.7 753.0v8M753.2 620.4h-8M871.8 753.0v8M753.2 613.7h-8M877.5 753.0v8M753.2 608.1h-8M882.4 753.0v8M753.2 603.5h-8M886.6 753.0v8M753.2 599.4h-8M890.4 753.0v8M753.2 595.9h-8M893.7 753.0v12.5M753.2 592.7h-12.5M915.6 753.0v8M753.2 571.7h-8M928.5 753.0v8M753.2 559.5h-8M937.6 753.0v8M753.2 550.8h-8M944.7 753.0v8M753.2 544.1h-8M950.4 753.0v8M753.2 538.5h-8M955.3 753.0v8M753.2 533.9h-8M959.5 753.0v8M753.2 529.8h-8M963.3 753.0v8M753.2 526.3h-8M966.6 753.0v12.5M753.2 523.1h-12.5M988.5 753.0v8M753.2 502.1h-8M1001.4 753.0v8M753.2 489.9h-8M1010.5 753.0v8M753.2 481.2h-8M1017.6 753.0v8M753.2 474.5h-8M1023.3 753.0v8M753.2 468.9h-8M1028.2 753.0v8M753.2 464.3h-8M1032.4 753.0v8M753.2 460.2h-8M1036.2 753.0v8M753.2 456.7h-8M1039.5 753.0v12.5M753.2 453.5h-12.5M1061.4 753.0v8M753.2 432.5h-8M1074.3 753.0v8M753.2 420.3h-8M1083.4 753.0v8M753.2 411.6h-8M1090.5 753.0v8M753.2 404.9h-8M1096.2 753.0v8M753.2 399.3h-8M1101.1 753.0v8M753.2 394.7h-8M1105.3 753.0v8M753.2 390.6h-8M1109.1 753.0v8M753.2 387.1h-8M1112.4 753.0v12.5M753.2 383.9h-12.5M1134.3 753.0v8M753.2 362.9h-8M1147.2 753.0v8M753.2 350.7h-8M1156.3 753.0v8M753.2 342.0h-8M1163.4 753.0v8M753.2 335.3h-8M1169.1 753.0v8M753.2 329.7h-8M1174.0 753.0v8M753.2 325.1h-8M1178.2 753.0v8M753.2 321.0h-8M1182.0 753.0v8M753.2 317.5h-8M1185.3 753.0v12.5M753.2 314.3h-12.5M1207.2 753.0v8M753.2 293.3h-8M1220.1 753.0v8M753.2 281.1h-8M1229.2 753.0v8M753.2 272.4h-8M1236.3 753.0v8M753.2 265.7h-8M1242.0 753.0v8M753.2 260.1h-8M1246.9 753.0v8M753.2 255.5h-8M1251.1 753.0v8M753.2 251.4h-8M1254.9 753.0v8M753.2 247.9h-8M1254.9 753.0v12.5M753.2 247.9h-12.5" stroke="#111" stroke-width="1.8" fill="none"/><path d="M753.2 247.9V753.0H1254.9" stroke="#111" stroke-width="2.4" fill="none"/><path d="M753.2 247.9H1254.9V753.0" stroke="#222" stroke-width="2" fill="none"/>
<g font-family="'Liberation Sans', Arial, sans-serif" font-size="26" fill="#161616" stroke="#161616" stroke-width="0.6"><text x="753.2" y="796.9" text-anchor="middle">0</text><text x="803.3" y="796.9">10<tspan font-size="19" dx="0.8" dy="-12">1</tspan></text><text x="876.2" y="796.9">10<tspan font-size="19" dx="0.8" dy="-12">2</tspan></text><text x="949.1" y="796.9">10<tspan font-size="19" dx="0.8" dy="-12">3</tspan></text><text x="1022.0" y="796.9">10<tspan font-size="19" dx="0.8" dy="-12">4</tspan></text><text x="1094.9" y="796.9">10<tspan font-size="19" dx="0.8" dy="-12">5</tspan></text><text x="1167.8" y="796.9">10<tspan font-size="19" dx="0.8" dy="-12">6</tspan></text><text transform="translate(728.6,753.0) rotate(-90)" text-anchor="middle">0</text><text transform="translate(728.6,680.5) rotate(-90)">10<tspan font-size="19" dx="0.8" dy="-12">1</tspan></text><text transform="translate(728.6,610.9) rotate(-90)">10<tspan font-size="19" dx="0.8" dy="-12">2</tspan></text><text transform="translate(728.6,541.3) rotate(-90)">10<tspan font-size="19" dx="0.8" dy="-12">3</tspan></text><text transform="translate(728.6,471.7) rotate(-90)">10<tspan font-size="19" dx="0.8" dy="-12">4</tspan></text><text transform="translate(728.6,402.1) rotate(-90)">10<tspan font-size="19" dx="0.8" dy="-12">5</tspan></text><text transform="translate(728.6,332.5) rotate(-90)">10<tspan font-size="19" dx="0.8" dy="-12">6</tspan></text></g><rect x="758.2" y="716.0" width="180" height="28" fill="#fff" fill-opacity="0.7"/><g font-family="'Liberation Sans', Arial, sans-serif" font-size="26.2" fill="#161616" stroke="#161616" stroke-width="0.75"><text x="760.7" y="280.9">Q3-UL(0.33%)</text><text x="1245.9" y="280.9" text-anchor="end">Q3-UR(0.61%)</text><text x="760.7" y="738.2">Q3-LL(95.93%)</text><text x="1245.9" y="738.2" text-anchor="end">Q3-LR(3.13%)</text></g>
<g fill="none" stroke-width="2.6" stroke-linecap="square"><path d="M1518 386h0M1576 398h0M1582 400h0M1566 408h0M1570 416h0M1594 416h0M1564 420h0M1596 420h0M1576 422h0M1582 424h0M1598 424h0M1564 426h0M1620 426h0M1682 426h0M1712 426h0M1662 428h0M1676 428h0M1682 428h0M1716 428h0M1578 430h0M1626 430h0M1670 430h0M1672 430h0M1680 430h0M1684 430h0M1710 430h0M1580 432h0M1600 432h0M1624 432h0M1648 432h0M1658 432h0M1660 432h0M1672 432h0M1682 432h0M1684 432h0M1694 432h0M1552 434h0M1572 434h0M1654 434h0M1668 434h0M1670 434h0M1672 434h0M1674 434h0M1678 434h0M1682 434h0M1690 434h0M1696 434h0M1576 436h0M1580 436h0M1594 436h0M1634 436h0M1642 436h0M1644 436h0M1646 436h0M1648 436h0M1650 436h0M1654 436h0M1668 436h0M1672 436h0M1678 436h0M1682 436h0M1706 436h0M1576 438h0M1640 438h0M1650 438h0M1652 438h0M1660 438h0M1674 438h0M1684 438h0M1686 438h0M1690 438h0M1696 438h0M1548 440h0M1560 440h0M1586 440h0M1626 440h0M1634 440h0M1636 440h0M1662 440h0M1670 440h0M1674 440h0M1676 440h0M1688 440h0M1692 440h0M1696 440h0M1568 442h0M1598 442h0M1612 442h0M1622 442h0M1628 442h0M1630 442h0M1636 442h0M1638 442h0M1648 442h0M1670 442h0M1672 442h0M1680 442h0M1682 442h0M1686 442h0M1688 442h0M1694 442h0M1698 442h0M1540 444h0M1568 444h0M1574 444h0M1594 444h0M1604 444h0M1618 444h0M1644 444h0M1672 444h0M1678 444h0M1682 444h0M1686 444h0M1688 444h0M1694 444h0M1702 444h0M1598 446h0M1600 446h0M1620 446h0M1624 446h0M1670 446h0M1678 446h0M1686 446h0M1696 446h0M1698 446h0M1700 446h0M1708 446h0M1536 448h0M1560 448h0M1592 448h0M1614 448h0M1616 448h0M1622 448h0M1628 448h0M1632 448h0M1664 448h0M1682 448h0M1684 448h0M1686 448h0M1696 448h0M1700 448h0M1710 448h0M1714 448h0M1588 450h0M1594 450h0M1600 450h0M1602 450h0M1606 450h0M1608 450h0M1614 450h0M1620 450h0M1628 450h0M1634 450h0M1664 450h0M1666 450h0M1668 450h0M1684 450h0M1686 450h0M1690 450h0M1692 450h0M1696 450h0M1706 450h0M1574 452h0M1584 452h0M1588 452h0M1600 452h0M1608 452h0M1610 452h0M1616 452h0M1622 452h0M1624 452h0M1626 452h0M1628 452h0M1630 452h0M1654 452h0M1666 452h0M1668 452h0M1682 452h0M1686 452h0M1690 452h0M1692 452h0M1694 452h0M1702 452h0M1706 452h0M1708 452h0M1582 454h0M1592 454h0M1594 454h0M1596 454h0M1602 454h0M1606 454h0M1608 454h0M1610 454h0M1614 454h0M1624 454h0M1636 454h0M1638 454h0M1640 454h0M1648 454h0M1656 454h0M1682 454h0M1684 454h0M1690 454h0M1694 454h0M1566 456h0M1572 456h0M1586 456h0M1604 456h0M1618 456h0M1624 456h0M1636 456h0M1658 456h0M1668 456h0M1684 456h0M1686 456h0M1690 456h0M1692 456h0M1718 456h0M1556 458h0M1592 458h0M1596 458h0M1598 458h0M1602 458h0M1608 458h0M1620 458h0M1624 458h0M1626 458h0M1628 458h0M1640 458h0M1652 458h0M1656 458h0M1668 458h0M1674 458h0M1676 458h0M1688 458h0M1698 458h0M1552 460h0M1568 460h0M1574 460h0M1586 460h0M1604 460h0M1612 460h0M1614 460h0M1618 460h0M1620 460h0M1628 460h0M1658 460h0M1664 460h0M1676 460h0M1678 460h0M1682 460h0M1690 460h0M1700 460h0M1538 462h0M1592 462h0M1608 462h0M1610 462h0M1618 462h0M1624 462h0M1668 462h0M1672 462h0M1678 462h0M1688 462h0M1692 462h0M1694 462h0M1696 462h0M1570 464h0M1578 464h0M1594 464h0M1598 464h0M1604 464h0M1606 464h0M1612 464h0M1614 464h0M1616 464h0M1618 464h0M1674 464h0M1680 464h0M1682 464h0M1688 464h0M1582 466h0M1584 466h0M1590 466h0M1592 466h0M1602 466h0M1604 466h0M1606 466h0M1616 466h0M1622 466h0M1672 466h0M1684 466h0M1692 466h0M1464 468h0M1516 468h0M1566 468h0M1576 468h0M1580 468h0M1582 468h0M1584 468h0M1598 468h0M1614 468h0M1616 468h0M1618 468h0M1626 468h0M1660 468h0M1664 468h0M1666 468h0M1682 468h0M1688 468h0M1690 468h0M1584 470h0M1598 470h0M1600 470h0M1602 470h0M1604 470h0M1606 470h0M1616 470h0M1622 470h0M1630 470h0M1640 470h0M1648 470h0M1656 470h0M1678 470h0M1680 470h0M1686 470h0M1562 472h0M1564 472h0M1570 472h0M1574 472h0M1580 472h0M1584 472h0M1590 472h0M1598 472h0M1608 472h0M1610 472h0M1618 472h0M1630 472h0M1648 472h0M1664 472h0M1674 472h0M1698 472h0M1552 474h0M1574 474h0M1582 474h0M1590 474h0M1598 474h0M1602 474h0M1604 474h0M1616 474h0M1620 474h0M1622 474h0M1624 474h0M1626 474h0M1628 474h0M1634 474h0M1638 474h0M1644 474h0M1652 474h0M1658 474h0M1660 474h0M1666 474h0M1672 474h0M1682 474h0M1590 476h0M1594 476h0M1596 476h0M1602 476h0M1604 476h0M1612 476h0M1614 476h0M1620 476h0M1634 476h0M1638 476h0M1640 476h0M1644 476h0M1652 476h0M1656 476h0M1664 476h0M1680 476h0M1556 478h0M1580 478h0M1582 478h0M1590 478h0M1608 478h0M1612 478h0M1622 478h0M1626 478h0M1628 478h0M1630 478h0M1634 478h0M1648 478h0M1586 480h0M1606 480h0M1612 480h0M1628 480h0M1650 480h0M1654 480h0M1658 480h0M1668 480h0M1550 482h0M1570 482h0M1580 482h0M1586 482h0M1604 482h0M1614 482h0M1652 482h0M1578 484h0M1580 484h0M1582 484h0M1586 484h0M1592 484h0M1602 484h0M1608 484h0M1612 484h0M1618 484h0M1624 484h0M1626 484h0M1634 484h0M1552 486h0M1578 486h0M1588 486h0M1606 486h0M1612 486h0M1644 486h0M1512 488h0M1522 488h0M1562 488h0M1582 488h0M1584 488h0M1588 488h0M1620 488h0M1636 488h0M1670 488h0M1536 490h0M1556 490h0M1568 490h0M1588 490h0M1592 490h0M1610 490h0M1616 490h0M1624 490h0M1644 490h0M1648 490h0M1660 490h0M1450 492h0M1558 492h0M1566 492h0M1580 492h0M1586 492h0M1588 492h0M1596 492h0M1602 492h0M1634 492h0M1636 492h0M1644 492h0M1664 492h0M1518 494h0M1538 494h0M1544 494h0M1556 494h0M1586 494h0M1594 494h0M1596 494h0M1610 494h0M1634 494h0M1548 496h0M1550 496h0M1554 496h0M1556 496h0M1572 496h0M1580 496h0M1594 496h0M1596 496h0M1604 496h0M1626 496h0M1630 496h0M1710 496h0M1570 498h0M1582 498h0M1588 498h0M1598 498h0M1608 498h0M1632 498h0M1634 498h0M1654 498h0M1528 500h0M1560 500h0M1570 500h0M1588 500h0M1592 500h0M1598 500h0M1604 500h0M1608 500h0M1626 500h0M1630 500h0M1632 500h0M1506 502h0M1528 502h0M1540 502h0M1542 502h0M1552 502h0M1560 502h0M1564 502h0M1570 502h0M1572 502h0M1580 502h0M1584 502h0M1586 502h0M1602 502h0M1628 502h0M1638 502h0M1464 504h0M1538 504h0M1540 504h0M1548 504h0M1552 504h0M1560 504h0M1562 504h0M1564 504h0M1568 504h0M1572 504h0M1580 504h0M1598 504h0M1614 504h0M1640 504h0M1644 504h0M1654 504h0M1482 506h0M1484 506h0M1546 506h0M1554 506h0M1560 506h0M1570 506h0M1572 506h0M1574 506h0M1582 506h0M1588 506h0M1590 506h0M1592 506h0M1600 506h0M1602 506h0M1610 506h0M1612 506h0M1614 506h0M1630 506h0M1426 508h0M1462 508h0M1512 508h0M1528 508h0M1530 508h0M1538 508h0M1554 508h0M1558 508h0M1562 508h0M1564 508h0M1570 508h0M1572 508h0M1578 508h0M1584 508h0M1596 508h0M1604 508h0M1612 508h0M1618 508h0M1622 508h0M1648 508h0M1652 508h0M1658 508h0M1662 508h0M1460 510h0M1530 510h0M1544 510h0M1552 510h0M1558 510h0M1560 510h0M1574 510h0M1578 510h0M1596 510h0M1604 510h0M1606 510h0M1618 510h0M1620 510h0M1626 510h0M1472 512h0M1480 512h0M1506 512h0M1510 512h0M1514 512h0M1526 512h0M1528 512h0M1536 512h0M1540 512h0M1544 512h0M1550 512h0M1552 512h0M1556 512h0M1564 512h0M1574 512h0M1576 512h0M1584 512h0M1586 512h0M1590 512h0M1594 512h0M1602 512h0M1610 512h0M1616 512h0M1676 512h0M1482 514h0M1514 514h0M1528 514h0M1534 514h0M1536 514h0M1546 514h0M1552 514h0M1554 514h0M1562 514h0M1568 514h0M1578 514h0M1586 514h0M1598 514h0M1612 514h0M1658 514h0M1678 514h0M1452 516h0M1460 516h0M1516 516h0M1522 516h0M1526 516h0M1532 516h0M1534 516h0M1536 516h0M1542 516h0M1544 516h0M1548 516h0M1566 516h0M1570 516h0M1572 516h0M1580 516h0M1582 516h0M1584 516h0M1586 516h0M1604 516h0M1644 516h0M1458 518h0M1496 518h0M1514 518h0M1516 518h0M1518 518h0M1540 518h0M1542 518h0M1552 518h0M1554 518h0M1560 518h0M1564 518h0M1568 518h0M1572 518h0M1576 518h0M1578 518h0M1580 518h0M1582 518h0M1584 518h0M1588 518h0M1592 518h0M1600 518h0M1608 518h0M1618 518h0M1624 518h0M1630 518h0M1654 518h0M1462 520h0M1508 520h0M1514 520h0M1518 520h0M1522 520h0M1524 520h0M1526 520h0M1548 520h0M1550 520h0M1558 520h0M1570 520h0M1576 520h0M1580 520h0M1584 520h0M1586 520h0M1588 520h0M1590 520h0M1592 520h0M1636 520h0M1642 520h0M1648 520h0M1672 520h0M1486 522h0M1498 522h0M1500 522h0M1522 522h0M1524 522h0M1528 522h0M1530 522h0M1532 522h0M1534 522h0M1546 522h0M1552 522h0M1558 522h0M1564 522h0M1566 522h0M1570 522h0M1572 522h0M1578 522h0M1582 522h0M1584 522h0M1588 522h0M1596 522h0M1604 522h0M1606 522h0M1608 522h0M1638 522h0M1640 522h0M1646 522h0M1652 522h0M1654 522h0M1486 524h0M1498 524h0M1504 524h0M1512 524h0M1518 524h0M1522 524h0M1528 524h0M1530 524h0M1532 524h0M1540 524h0M1546 524h0M1552 524h0M1566 524h0M1578 524h0M1580 524h0M1582 524h0M1586 524h0M1590 524h0M1598 524h0M1600 524h0M1620 524h0M1642 524h0M1436 526h0M1466 526h0M1500 526h0M1510 526h0M1512 526h0M1514 526h0M1520 526h0M1524 526h0M1526 526h0M1532 526h0M1534 526h0M1572 526h0M1574 526h0M1576 526h0M1588 526h0M1590 526h0M1594 526h0M1600 526h0M1636 526h0M1678 526h0M1456 528h0M1464 528h0M1474 528h0M1480 528h0M1498 528h0M1508 528h0M1510 528h0M1520 528h0M1522 528h0M1554 528h0M1560 528h0M1572 528h0M1576 528h0M1582 528h0M1584 528h0M1586 528h0M1590 528h0M1604 528h0M1616 528h0M1668 528h0M1440 530h0M1448 530h0M1476 530h0M1492 530h0M1502 530h0M1520 530h0M1528 530h0M1530 530h0M1540 530h0M1542 530h0M1550 530h0M1568 530h0M1572 530h0M1580 530h0M1588 530h0M1594 530h0M1606 530h0M1610 530h0M1616 530h0M1444 532h0M1474 532h0M1476 532h0M1484 532h0M1486 532h0M1492 532h0M1494 532h0M1504 532h0M1506 532h0M1520 532h0M1534 532h0M1552 532h0M1602 532h0M1618 532h0M1402 534h0M1434 534h0M1456 534h0M1474 534h0M1476 534h0M1478 534h0M1484 534h0M1498 534h0M1500 534h0M1506 534h0M1510 534h0M1514 534h0M1516 534h0M1520 534h0M1572 534h0M1586 534h0M1590 534h0M1602 534h0M1604 534h0M1426 536h0M1466 536h0M1476 536h0M1490 536h0M1494 536h0M1508 536h0M1510 536h0M1514 536h0M1516 536h0M1524 536h0M1526 536h0M1578 536h0M1580 536h0M1584 536h0M1596 536h0M1412 538h0M1454 538h0M1470 538h0M1482 538h0M1488 538h0M1490 538h0M1502 538h0M1506 538h0M1516 538h0M1520 538h0M1524 538h0M1546 538h0M1550 538h0M1552 538h0M1590 538h0M1594 538h0M1600 538h0M1604 538h0M1616 538h0M1410 540h0M1436 540h0M1452 540h0M1456 540h0M1482 540h0M1500 540h0M1502 540h0M1514 540h0M1516 540h0M1530 540h0M1540 540h0M1548 540h0M1576 540h0M1584 540h0M1592 540h0M1596 540h0M1598 540h0M1600 540h0M1618 540h0M1422 542h0M1456 542h0M1462 542h0M1464 542h0M1472 542h0M1490 542h0M1494 542h0M1514 542h0M1518 542h0M1526 542h0M1572 542h0M1588 542h0M1602 542h0M1608 542h0M1610 542h0M1442 544h0M1444 544h0M1462 544h0M1470 544h0M1482 544h0M1486 544h0M1498 544h0M1506 544h0M1508 544h0M1510 544h0M1514 544h0M1518 544h0M1524 544h0M1526 544h0M1528 544h0M1558 544h0M1574 544h0M1576 544h0M1582 544h0M1586 544h0M1590 544h0M1596 544h0M1598 544h0M1600 544h0M1604 544h0M1608 544h0M1434 546h0M1442 546h0M1454 546h0M1462 546h0M1468 546h0M1470 546h0M1472 546h0M1476 546h0M1486 546h0M1506 546h0M1510 546h0M1512 546h0M1516 546h0M1526 546h0M1532 546h0M1582 546h0M1588 546h0M1454 548h0M1456 548h0M1470 548h0M1472 548h0M1480 548h0M1484 548h0M1486 548h0M1492 548h0M1494 548h0M1506 548h0M1508 548h0M1510 548h0M1512 548h0M1516 548h0M1526 548h0M1580 548h0M1586 548h0M1592 548h0M1594 548h0M1598 548h0M1448 550h0M1468 550h0M1474 550h0M1490 550h0M1498 550h0M1502 550h0M1504 550h0M1506 550h0M1518 550h0M1588 550h0M1590 550h0M1592 550h0M1602 550h0M1610 550h0M1436 552h0M1444 552h0M1460 552h0M1462 552h0M1470 552h0M1472 552h0M1480 552h0M1482 552h0M1484 552h0M1490 552h0M1494 552h0M1500 552h0M1512 552h0M1526 552h0M1572 552h0M1576 552h0M1588 552h0M1592 552h0M1594 552h0M1602 552h0M1442 554h0M1448 554h0M1470 554h0M1474 554h0M1480 554h0M1492 554h0M1508 554h0M1510 554h0M1512 554h0M1516 554h0M1522 554h0M1532 554h0M1540 554h0M1582 554h0M1584 554h0M1592 554h0M1472 556h0M1482 556h0M1486 556h0M1488 556h0M1496 556h0M1504 556h0M1506 556h0M1510 556h0M1512 556h0M1516 556h0M1520 556h0M1524 556h0M1572 556h0M1574 556h0M1580 556h0M1584 556h0M1588 556h0M1596 556h0M1600 556h0M1604 556h0M1608 556h0M1452 558h0M1456 558h0M1470 558h0M1474 558h0M1478 558h0M1482 558h0M1490 558h0M1494 558h0M1496 558h0M1500 558h0M1504 558h0M1512 558h0M1516 558h0M1534 558h0M1570 558h0M1584 558h0M1586 558h0M1594 558h0M1602 558h0M1438 560h0M1448 560h0M1478 560h0M1486 560h0M1494 560h0M1498 560h0M1506 560h0M1516 560h0M1520 560h0M1532 560h0M1534 560h0M1578 560h0M1582 560h0M1584 560h0M1598 560h0M1604 560h0M1460 562h0M1478 562h0M1484 562h0M1488 562h0M1494 562h0M1508 562h0M1516 562h0M1520 562h0M1532 562h0M1582 562h0M1584 562h0M1586 562h0M1592 562h0M1596 562h0M1468 564h0M1480 564h0M1484 564h0M1488 564h0M1494 564h0M1502 564h0M1506 564h0M1510 564h0M1512 564h0M1514 564h0M1518 564h0M1520 564h0M1528 564h0M1572 564h0M1578 564h0M1586 564h0M1588 564h0M1600 564h0M1602 564h0M1388 566h0M1390 566h0M1398 566h0M1454 566h0M1468 566h0M1478 566h0M1486 566h0M1496 566h0M1512 566h0M1530 566h0M1538 566h0M1572 566h0M1578 566h0M1580 566h0M1584 566h0M1590 566h0M1612 566h0M1446 568h0M1468 568h0M1476 568h0M1480 568h0M1484 568h0M1492 568h0M1496 568h0M1502 568h0M1508 568h0M1510 568h0M1514 568h0M1518 568h0M1526 568h0M1530 568h0M1534 568h0M1546 568h0M1574 568h0M1584 568h0M1586 568h0M1590 568h0M1592 568h0M1600 568h0M1396 570h0M1442 570h0M1472 570h0M1488 570h0M1494 570h0M1510 570h0M1514 570h0M1518 570h0M1524 570h0M1528 570h0M1544 570h0M1550 570h0M1554 570h0M1572 570h0M1576 570h0M1584 570h0M1586 570h0M1592 570h0M1594 570h0M1600 570h0M1606 570h0M1408 572h0M1420 572h0M1440 572h0M1444 572h0M1446 572h0M1474 572h0M1476 572h0M1482 572h0M1516 572h0M1520 572h0M1526 572h0M1534 572h0M1568 572h0M1578 572h0M1584 572h0M1386 574h0M1430 574h0M1492 574h0M1504 574h0M1518 574h0M1536 574h0M1538 574h0M1540 574h0M1556 574h0M1574 574h0M1580 574h0M1590 574h0M1592 574h0M1608 574h0M1434 576h0M1438 576h0M1446 576h0M1450 576h0M1454 576h0M1474 576h0M1508 576h0M1526 576h0M1534 576h0M1542 576h0M1544 576h0M1552 576h0M1562 576h0M1564 576h0M1574 576h0M1576 576h0M1578 576h0M1580 576h0M1596 576h0M1630 576h0M1420 578h0M1466 578h0M1482 578h0M1490 578h0M1500 578h0M1502 578h0M1516 578h0M1518 578h0M1524 578h0M1526 578h0M1532 578h0M1556 578h0M1572 578h0M1582 578h0M1594 578h0M1468 580h0M1470 580h0M1482 580h0M1488 580h0M1490 580h0M1498 580h0M1528 580h0M1530 580h0M1542 580h0M1548 580h0M1552 580h0M1554 580h0M1568 580h0M1570 580h0M1572 580h0M1574 580h0M1576 580h0M1578 580h0M1580 580h0M1590 580h0M1592 580h0M1414 582h0M1464 582h0M1508 582h0M1516 582h0M1530 582h0M1534 582h0M1536 582h0M1546 582h0M1548 582h0M1560 582h0M1566 582h0M1568 582h0M1570 582h0M1574 582h0M1580 582h0M1588 582h0M1596 582h0M1458 584h0M1524 584h0M1538 584h0M1550 584h0M1564 584h0M1566 584h0M1568 584h0M1570 584h0M1572 584h0M1596 584h0M1602 584h0M1500 586h0M1518 586h0M1524 586h0M1528 586h0M1532 586h0M1536 586h0M1538 586h0M1540 586h0M1542 586h0M1544 586h0M1546 586h0M1548 586h0M1550 586h0M1554 586h0M1560 586h0M1566 586h0M1568 586h0M1572 586h0M1578 586h0M1584 586h0M1442 588h0M1458 588h0M1482 588h0M1518 588h0M1526 588h0M1528 588h0M1530 588h0M1534 588h0M1536 588h0M1538 588h0M1540 588h0M1550 588h0M1554 588h0M1556 588h0M1558 588h0M1560 588h0M1570 588h0M1572 588h0M1574 588h0M1576 588h0M1578 588h0M1590 588h0M1598 588h0M1604 588h0M1412 590h0M1492 590h0M1500 590h0M1542 590h0M1544 590h0M1546 590h0M1550 590h0M1552 590h0M1556 590h0M1558 590h0M1562 590h0M1566 590h0M1568 590h0M1570 590h0M1574 590h0M1600 590h0M1472 592h0M1524 592h0M1534 592h0M1536 592h0M1554 592h0M1568 592h0M1572 592h0M1576 592h0M1594 592h0M1530 594h0M1538 594h0M1540 594h0M1544 594h0M1552 594h0M1566 594h0M1574 594h0M1582 594h0M1588 594h0M1534 596h0M1540 596h0M1542 596h0M1560 596h0M1570 596h0M1606 596h0M1452 598h0M1492 598h0M1506 598h0M1508 598h0M1516 598h0M1544 598h0M1558 598h0M1560 598h0M1564 598h0M1580 598h0M1588 598h0M1592 598h0M1516 600h0M1544 600h0M1552 600h0M1554 600h0M1560 600h0M1576 600h0M1590 600h0M1498 602h0M1530 602h0M1534 602h0M1536 602h0M1544 602h0M1552 602h0M1556 602h0M1560 602h0M1562 602h0M1566 602h0M1510 604h0M1520 604h0M1528 604h0M1538 604h0M1542 604h0M1544 604h0M1550 604h0M1552 604h0M1562 604h0M1572 604h0M1576 604h0M1590 604h0M1412 606h0M1516 606h0M1522 606h0M1544 606h0M1546 606h0M1552 606h0M1556 606h0M1570 606h0M1518 608h0M1532 608h0M1536 608h0M1538 608h0M1546 608h0M1552 608h0M1512 610h0M1530 610h0M1536 610h0M1538 610h0M1540 610h0M1542 610h0M1546 610h0M1558 610h0M1572 610h0M1498 612h0M1516 612h0M1522 612h0M1532 612h0M1536 612h0M1542 612h0M1548 612h0M1580 612h0M1572 614h0M1522 616h0M1530 616h0M1534 616h0M1552 616h0M1556 616h0M1564 616h0M1574 616h0M1478 618h0M1498 618h0M1524 618h0M1532 618h0M1540 618h0M1548 618h0M1552 618h0M1572 618h0M1488 620h0M1546 620h0M1552 620h0M1558 620h0M1572 620h0M1574 620h0M1518 622h0M1520 622h0M1524 622h0M1548 622h0M1550 622h0M1560 622h0M1562 622h0M1508 624h0M1540 624h0M1544 624h0M1554 624h0M1582 624h0M1542 626h0M1562 626h0M1576 626h0M1552 628h0M1556 628h0M1572 628h0M1588 628h0M1386 630h0M1508 630h0M1538 630h0M1560 630h0M1588 630h0M1444 632h0M1508 632h0M1518 632h0M1534 632h0M1542 632h0M1546 632h0M1550 632h0M1564 632h0M1512 634h0M1526 634h0M1528 634h0M1538 634h0M1558 634h0M1566 634h0M1530 636h0M1538 636h0M1546 636h0M1562 636h0M1580 636h0M1524 638h0M1526 638h0M1538 638h0M1552 638h0M1562 638h0M1582 638h0M1546 640h0M1550 640h0M1566 640h0M1530 642h0M1558 642h0M1520 644h0M1542 644h0M1548 644h0M1552 644h0M1556 644h0M1564 644h0M1520 646h0M1546 646h0M1574 646h0M1524 648h0M1560 648h0M1508 650h0M1522 650h0M1544 650h0M1548 650h0M1562 656h0M1478 658h0M1540 658h0M1544 658h0M1548 658h0M1520 660h0M1570 660h0M1496 662h0M1532 662h0M1534 662h0M1560 664h0M1544 666h0M1526 668h0M1514 672h0M1524 672h0M1542 676h0M1564 676h0M1528 678h0M1524 682h0M1528 690h0M1560 736h0" stroke="rgb(10,10,255)"/><path d="M1570 418h0M1676 432h0M1662 434h0M1664 434h0M1656 436h0M1662 436h0M1674 436h0M1680 436h0M1686 436h0M1690 436h0M1638 438h0M1644 438h0M1658 438h0M1662 438h0M1668 438h0M1676 438h0M1640 440h0M1646 440h0M1648 440h0M1650 440h0M1652 440h0M1656 440h0M1668 440h0M1672 440h0M1634 442h0M1658 442h0M1662 442h0M1666 442h0M1668 442h0M1676 442h0M1692 442h0M1622 444h0M1628 444h0M1634 444h0M1648 444h0M1660 444h0M1664 444h0M1668 444h0M1670 444h0M1676 444h0M1684 444h0M1692 444h0M1704 444h0M1626 446h0M1630 446h0M1634 446h0M1636 446h0M1654 446h0M1666 446h0M1684 446h0M1690 446h0M1624 448h0M1634 448h0M1636 448h0M1648 448h0M1650 448h0M1652 448h0M1658 448h0M1660 448h0M1674 448h0M1678 448h0M1692 448h0M1618 450h0M1622 450h0M1624 450h0M1626 450h0M1632 450h0M1636 450h0M1654 450h0M1656 450h0M1614 452h0M1658 452h0M1664 452h0M1616 454h0M1620 454h0M1626 454h0M1632 454h0M1642 454h0M1660 454h0M1662 454h0M1670 454h0M1672 454h0M1686 454h0M1620 456h0M1626 456h0M1628 456h0M1632 456h0M1654 456h0M1656 456h0M1666 456h0M1670 456h0M1674 456h0M1676 456h0M1678 456h0M1680 456h0M1682 456h0M1604 458h0M1622 458h0M1642 458h0M1648 458h0M1650 458h0M1662 458h0M1672 458h0M1678 458h0M1570 460h0M1592 460h0M1598 460h0M1600 460h0M1622 460h0M1624 460h0M1626 460h0M1630 460h0M1660 460h0M1672 460h0M1684 460h0M1686 460h0M1614 462h0M1630 462h0M1666 462h0M1670 462h0M1686 462h0M1590 464h0M1626 464h0M1640 464h0M1666 464h0M1670 464h0M1672 464h0M1676 464h0M1686 464h0M1614 466h0M1644 466h0M1664 466h0M1676 466h0M1682 466h0M1608 468h0M1628 468h0M1636 468h0M1662 468h0M1670 468h0M1672 468h0M1580 470h0M1614 470h0M1620 470h0M1636 470h0M1646 470h0M1658 470h0M1660 470h0M1664 470h0M1670 470h0M1672 470h0M1588 472h0M1594 472h0M1602 472h0M1632 472h0M1636 472h0M1640 472h0M1646 472h0M1658 472h0M1686 472h0M1618 474h0M1642 474h0M1648 474h0M1654 474h0M1656 474h0M1582 476h0M1642 476h0M1604 478h0M1636 478h0M1608 480h0M1626 482h0M1598 486h0M1580 490h0M1606 498h0M1626 498h0M1558 500h0M1542 504h0M1566 504h0M1584 504h0M1644 506h0M1542 508h0M1576 508h0M1582 508h0M1600 508h0M1542 510h0M1548 510h0M1554 510h0M1556 510h0M1566 510h0M1554 512h0M1558 512h0M1572 512h0M1578 512h0M1540 514h0M1542 514h0M1548 514h0M1556 514h0M1570 514h0M1540 516h0M1546 516h0M1554 516h0M1558 516h0M1560 516h0M1562 516h0M1576 516h0M1594 516h0M1530 518h0M1546 518h0M1548 518h0M1550 518h0M1558 518h0M1570 518h0M1534 520h0M1536 520h0M1538 520h0M1542 520h0M1552 520h0M1560 520h0M1572 520h0M1578 520h0M1594 520h0M1614 520h0M1518 522h0M1526 522h0M1538 522h0M1544 522h0M1548 522h0M1554 522h0M1556 522h0M1568 522h0M1580 522h0M1586 522h0M1592 522h0M1478 524h0M1534 524h0M1544 524h0M1550 524h0M1554 524h0M1558 524h0M1576 524h0M1584 524h0M1594 524h0M1622 524h0M1536 526h0M1538 526h0M1542 526h0M1552 526h0M1568 526h0M1582 526h0M1584 526h0M1496 528h0M1514 528h0M1528 528h0M1532 528h0M1534 528h0M1550 528h0M1552 528h0M1558 528h0M1578 528h0M1580 528h0M1532 530h0M1558 530h0M1562 530h0M1578 530h0M1582 530h0M1490 532h0M1516 532h0M1522 532h0M1526 532h0M1530 532h0M1532 532h0M1540 532h0M1544 532h0M1570 532h0M1576 532h0M1584 532h0M1492 534h0M1524 534h0M1530 534h0M1538 534h0M1540 534h0M1542 534h0M1564 534h0M1568 534h0M1578 534h0M1582 534h0M1588 534h0M1592 534h0M1600 534h0M1502 536h0M1506 536h0M1518 536h0M1528 536h0M1530 536h0M1540 536h0M1544 536h0M1546 536h0M1554 536h0M1566 536h0M1576 536h0M1582 536h0M1588 536h0M1590 536h0M1474 538h0M1528 538h0M1538 538h0M1566 538h0M1584 538h0M1462 540h0M1468 540h0M1524 540h0M1526 540h0M1528 540h0M1534 540h0M1538 540h0M1574 540h0M1582 540h0M1484 542h0M1520 542h0M1522 542h0M1528 542h0M1530 542h0M1538 542h0M1550 542h0M1570 542h0M1578 542h0M1580 542h0M1584 542h0M1590 542h0M1594 542h0M1600 542h0M1484 544h0M1494 544h0M1502 544h0M1520 544h0M1522 544h0M1532 544h0M1544 544h0M1550 544h0M1556 544h0M1572 544h0M1580 544h0M1584 544h0M1592 544h0M1456 546h0M1466 546h0M1490 546h0M1498 546h0M1502 546h0M1504 546h0M1514 546h0M1524 546h0M1536 546h0M1578 546h0M1580 546h0M1586 546h0M1590 546h0M1592 546h0M1490 548h0M1504 548h0M1520 548h0M1524 548h0M1534 548h0M1538 548h0M1574 548h0M1578 548h0M1446 550h0M1460 550h0M1486 550h0M1496 550h0M1508 550h0M1514 550h0M1516 550h0M1526 550h0M1530 550h0M1534 550h0M1538 550h0M1546 550h0M1556 550h0M1568 550h0M1580 550h0M1600 550h0M1478 552h0M1514 552h0M1566 552h0M1582 552h0M1584 552h0M1596 552h0M1506 554h0M1514 554h0M1524 554h0M1526 554h0M1536 554h0M1564 554h0M1588 554h0M1444 556h0M1490 556h0M1492 556h0M1494 556h0M1498 556h0M1500 556h0M1526 556h0M1540 556h0M1560 556h0M1562 556h0M1568 556h0M1582 556h0M1586 556h0M1590 556h0M1520 558h0M1526 558h0M1576 558h0M1580 558h0M1592 558h0M1480 560h0M1504 560h0M1528 560h0M1530 560h0M1538 560h0M1554 560h0M1572 560h0M1496 562h0M1524 562h0M1534 562h0M1536 562h0M1540 562h0M1562 562h0M1574 562h0M1578 562h0M1496 564h0M1522 564h0M1526 564h0M1558 564h0M1568 564h0M1576 564h0M1514 566h0M1516 566h0M1520 566h0M1528 566h0M1548 566h0M1558 566h0M1588 566h0M1464 568h0M1506 568h0M1520 568h0M1522 568h0M1532 568h0M1536 568h0M1542 568h0M1552 568h0M1554 568h0M1556 568h0M1562 568h0M1568 568h0M1572 568h0M1576 568h0M1582 568h0M1588 568h0M1594 568h0M1522 570h0M1532 570h0M1548 570h0M1558 570h0M1570 570h0M1574 570h0M1582 570h0M1590 570h0M1524 572h0M1530 572h0M1532 572h0M1540 572h0M1548 572h0M1572 572h0M1580 572h0M1582 572h0M1586 572h0M1524 574h0M1526 574h0M1542 574h0M1544 574h0M1552 574h0M1554 574h0M1564 574h0M1566 574h0M1568 574h0M1586 574h0M1512 576h0M1518 576h0M1522 576h0M1528 576h0M1538 576h0M1550 576h0M1584 576h0M1586 576h0M1522 578h0M1528 578h0M1536 578h0M1538 578h0M1546 578h0M1548 578h0M1550 578h0M1558 578h0M1560 578h0M1562 578h0M1576 578h0M1578 578h0M1584 578h0M1484 580h0M1532 580h0M1540 580h0M1544 580h0M1546 580h0M1550 580h0M1560 580h0M1522 582h0M1532 582h0M1544 582h0M1550 582h0M1554 582h0M1544 584h0M1552 584h0M1556 584h0M1560 584h0M1578 584h0M1534 586h0M1552 586h0M1562 586h0M1544 588h0M1526 590h0M1538 590h0M1560 590h0M1578 590h0M1538 592h0M1540 592h0M1548 592h0M1556 592h0M1554 594h0M1576 596h0M1532 598h0M1550 598h0M1562 598h0M1566 598h0M1572 598h0M1550 600h0M1558 602h0M1536 606h0M1534 608h0M1556 610h0M1530 618h0M1550 618h0M1568 618h0M1558 622h0M1514 624h0M1548 624h0M1558 630h0M1552 636h0M1530 640h0M1552 642h0" stroke="rgb(0,90,255)"/><path d="M1684 434h0M1664 438h0M1632 440h0M1654 440h0M1660 440h0M1664 440h0M1694 440h0M1644 442h0M1646 442h0M1654 442h0M1674 442h0M1632 444h0M1638 444h0M1640 444h0M1656 444h0M1662 444h0M1666 444h0M1638 446h0M1642 446h0M1648 446h0M1660 446h0M1668 446h0M1672 446h0M1680 446h0M1682 446h0M1688 446h0M1620 448h0M1626 448h0M1640 448h0M1654 448h0M1670 448h0M1690 448h0M1630 450h0M1638 450h0M1652 450h0M1662 450h0M1674 450h0M1676 450h0M1632 452h0M1640 452h0M1644 452h0M1650 452h0M1656 452h0M1680 452h0M1628 454h0M1634 454h0M1652 454h0M1676 454h0M1680 454h0M1634 456h0M1638 456h0M1640 456h0M1644 456h0M1648 456h0M1650 456h0M1660 456h0M1662 456h0M1672 456h0M1634 458h0M1680 458h0M1682 458h0M1634 460h0M1642 460h0M1644 460h0M1670 460h0M1680 460h0M1612 462h0M1616 462h0M1626 462h0M1628 462h0M1634 462h0M1648 462h0M1650 462h0M1620 464h0M1628 464h0M1664 464h0M1668 464h0M1684 464h0M1620 466h0M1624 466h0M1666 466h0M1670 466h0M1610 468h0M1652 468h0M1674 468h0M1590 470h0M1654 470h0M1634 472h0M1652 472h0M1636 474h0M1584 500h0M1536 508h0M1560 512h0M1552 516h0M1568 516h0M1534 518h0M1538 518h0M1562 518h0M1566 518h0M1532 520h0M1546 520h0M1554 520h0M1556 520h0M1562 520h0M1568 520h0M1574 520h0M1560 522h0M1574 522h0M1548 524h0M1562 524h0M1568 524h0M1570 524h0M1574 524h0M1588 524h0M1528 526h0M1544 526h0M1546 526h0M1550 526h0M1556 526h0M1558 526h0M1562 526h0M1546 528h0M1556 528h0M1574 528h0M1588 528h0M1522 530h0M1526 530h0M1544 530h0M1546 530h0M1548 530h0M1566 530h0M1586 530h0M1528 532h0M1536 532h0M1550 532h0M1556 532h0M1568 532h0M1574 532h0M1578 532h0M1580 532h0M1582 532h0M1518 534h0M1536 534h0M1544 534h0M1546 534h0M1552 534h0M1556 534h0M1566 534h0M1570 534h0M1574 534h0M1576 534h0M1580 534h0M1584 534h0M1512 536h0M1522 536h0M1536 536h0M1538 536h0M1564 536h0M1572 536h0M1526 538h0M1530 538h0M1532 538h0M1534 538h0M1540 538h0M1548 538h0M1554 538h0M1572 538h0M1576 538h0M1592 538h0M1536 540h0M1550 540h0M1566 540h0M1580 540h0M1586 540h0M1588 540h0M1478 542h0M1512 542h0M1524 542h0M1540 542h0M1542 542h0M1566 542h0M1568 542h0M1576 542h0M1592 542h0M1530 544h0M1560 544h0M1564 544h0M1570 544h0M1588 544h0M1534 546h0M1540 546h0M1546 546h0M1568 546h0M1584 546h0M1522 548h0M1528 548h0M1530 548h0M1568 548h0M1584 548h0M1488 550h0M1524 550h0M1536 550h0M1542 550h0M1548 550h0M1578 550h0M1582 550h0M1586 550h0M1518 552h0M1532 552h0M1568 552h0M1570 552h0M1580 552h0M1534 554h0M1538 554h0M1574 554h0M1586 554h0M1522 556h0M1536 556h0M1544 556h0M1552 556h0M1566 556h0M1578 556h0M1510 558h0M1514 558h0M1532 558h0M1540 558h0M1542 558h0M1564 558h0M1578 558h0M1522 560h0M1536 560h0M1562 560h0M1564 560h0M1570 560h0M1574 560h0M1580 560h0M1592 560h0M1502 562h0M1522 562h0M1542 562h0M1570 562h0M1534 564h0M1556 564h0M1564 564h0M1566 564h0M1574 564h0M1518 566h0M1534 566h0M1540 566h0M1552 566h0M1560 566h0M1566 566h0M1568 566h0M1462 568h0M1524 568h0M1528 568h0M1540 568h0M1544 568h0M1558 568h0M1526 570h0M1568 570h0M1538 572h0M1552 572h0M1558 572h0M1560 572h0M1514 574h0M1532 574h0M1550 574h0M1570 574h0M1588 574h0M1532 576h0M1546 576h0M1548 576h0M1554 576h0M1556 576h0M1558 576h0M1590 576h0M1542 578h0M1564 578h0M1574 578h0M1580 578h0M1520 580h0M1536 580h0M1564 580h0M1582 580h0M1586 580h0M1542 582h0M1564 582h0M1542 588h0M1552 588h0M1564 588h0M1548 590h0M1554 590h0M1562 592h0" stroke="rgb(0,190,255)"/><path d="M1638 440h0M1644 440h0M1656 442h0M1630 444h0M1636 444h0M1642 444h0M1646 444h0M1650 444h0M1652 444h0M1654 444h0M1658 444h0M1680 444h0M1632 446h0M1640 446h0M1644 446h0M1646 446h0M1652 446h0M1656 446h0M1664 446h0M1638 448h0M1642 448h0M1644 448h0M1646 448h0M1656 448h0M1662 448h0M1666 448h0M1676 448h0M1680 448h0M1688 448h0M1644 450h0M1646 450h0M1650 450h0M1658 450h0M1670 450h0M1672 450h0M1678 450h0M1680 450h0M1682 450h0M1688 450h0M1634 452h0M1636 452h0M1638 452h0M1652 452h0M1670 452h0M1672 452h0M1674 452h0M1676 452h0M1684 452h0M1688 452h0M1646 454h0M1654 454h0M1658 454h0M1664 454h0M1668 454h0M1674 454h0M1678 454h0M1614 456h0M1664 456h0M1688 456h0M1630 458h0M1632 458h0M1636 458h0M1644 458h0M1646 458h0M1654 458h0M1660 458h0M1664 458h0M1686 458h0M1636 460h0M1638 460h0M1640 460h0M1646 460h0M1650 460h0M1652 460h0M1666 460h0M1668 460h0M1674 460h0M1622 462h0M1632 462h0M1636 462h0M1642 462h0M1644 462h0M1656 462h0M1660 462h0M1664 462h0M1624 464h0M1630 464h0M1636 464h0M1648 464h0M1654 464h0M1658 464h0M1662 464h0M1618 466h0M1626 466h0M1632 466h0M1638 466h0M1660 466h0M1662 466h0M1622 468h0M1630 468h0M1632 468h0M1634 468h0M1646 468h0M1648 468h0M1654 468h0M1658 468h0M1618 470h0M1632 470h0M1638 470h0M1642 470h0M1644 470h0M1650 470h0M1628 472h0M1638 472h0M1644 472h0M1656 472h0M1560 514h0M1572 514h0M1542 522h0M1550 522h0M1536 524h0M1556 524h0M1560 524h0M1564 524h0M1548 526h0M1560 526h0M1564 526h0M1566 526h0M1578 526h0M1538 528h0M1540 528h0M1542 528h0M1544 528h0M1548 528h0M1562 528h0M1566 528h0M1508 530h0M1552 530h0M1556 530h0M1564 530h0M1570 530h0M1538 532h0M1548 532h0M1554 532h0M1558 532h0M1560 532h0M1562 532h0M1566 532h0M1572 532h0M1532 534h0M1534 534h0M1548 534h0M1554 534h0M1558 534h0M1560 534h0M1542 536h0M1548 536h0M1550 536h0M1558 536h0M1560 536h0M1562 536h0M1568 536h0M1570 536h0M1574 536h0M1586 536h0M1536 538h0M1544 538h0M1556 538h0M1562 538h0M1564 538h0M1568 538h0M1570 538h0M1578 538h0M1580 538h0M1582 538h0M1520 540h0M1532 540h0M1552 540h0M1556 540h0M1558 540h0M1560 540h0M1564 540h0M1568 540h0M1570 540h0M1572 540h0M1578 540h0M1532 542h0M1536 542h0M1560 542h0M1564 542h0M1574 542h0M1582 542h0M1586 542h0M1536 544h0M1540 544h0M1542 544h0M1552 544h0M1554 544h0M1578 544h0M1522 546h0M1528 546h0M1530 546h0M1542 546h0M1544 546h0M1548 546h0M1556 546h0M1560 546h0M1564 546h0M1570 546h0M1572 546h0M1532 548h0M1540 548h0M1542 548h0M1546 548h0M1552 548h0M1560 548h0M1570 548h0M1572 548h0M1576 548h0M1582 548h0M1588 548h0M1528 550h0M1532 550h0M1550 550h0M1552 550h0M1570 550h0M1576 550h0M1584 550h0M1522 552h0M1524 552h0M1528 552h0M1538 552h0M1540 552h0M1544 552h0M1552 552h0M1554 552h0M1556 552h0M1560 552h0M1562 552h0M1564 552h0M1574 552h0M1578 552h0M1530 554h0M1542 554h0M1546 554h0M1548 554h0M1554 554h0M1556 554h0M1558 554h0M1568 554h0M1576 554h0M1578 554h0M1528 556h0M1530 556h0M1532 556h0M1538 556h0M1546 556h0M1548 556h0M1554 556h0M1556 556h0M1564 556h0M1576 556h0M1524 558h0M1538 558h0M1544 558h0M1554 558h0M1556 558h0M1562 558h0M1566 558h0M1572 558h0M1574 558h0M1514 560h0M1544 560h0M1546 560h0M1548 560h0M1552 560h0M1556 560h0M1558 560h0M1576 560h0M1526 562h0M1528 562h0M1530 562h0M1538 562h0M1546 562h0M1548 562h0M1554 562h0M1556 562h0M1568 562h0M1572 562h0M1576 562h0M1580 562h0M1538 564h0M1542 564h0M1546 564h0M1548 564h0M1560 564h0M1570 564h0M1580 564h0M1584 564h0M1526 566h0M1532 566h0M1536 566h0M1542 566h0M1544 566h0M1556 566h0M1562 566h0M1570 566h0M1538 568h0M1548 568h0M1550 568h0M1564 568h0M1570 568h0M1580 568h0M1530 570h0M1538 570h0M1542 570h0M1546 570h0M1552 570h0M1556 570h0M1560 570h0M1562 570h0M1564 570h0M1566 570h0M1578 570h0M1536 572h0M1542 572h0M1544 572h0M1550 572h0M1554 572h0M1562 572h0M1564 572h0M1566 572h0M1570 572h0M1576 572h0M1546 574h0M1548 574h0M1558 574h0M1560 574h0M1562 574h0M1572 574h0M1576 574h0M1578 574h0M1536 576h0M1566 576h0M1568 576h0M1540 578h0M1566 578h0M1538 580h0M1562 580h0M1546 588h0" stroke="rgb(0,245,230)"/><path d="M1650 442h0M1652 442h0M1660 442h0M1664 442h0M1650 446h0M1662 446h0M1674 446h0M1668 448h0M1672 448h0M1640 450h0M1660 450h0M1642 452h0M1648 452h0M1660 452h0M1644 454h0M1650 454h0M1652 456h0M1638 458h0M1658 458h0M1666 458h0M1654 460h0M1662 460h0M1640 462h0M1662 462h0M1622 464h0M1632 464h0M1656 464h0M1648 466h0M1650 466h0M1624 468h0M1656 468h0M1634 470h0M1642 472h0M1566 514h0M1572 524h0M1568 528h0M1574 530h0M1546 532h0M1550 534h0M1556 536h0M1560 538h0M1508 540h0M1542 540h0M1546 542h0M1558 542h0M1534 544h0M1538 544h0M1548 544h0M1566 544h0M1538 546h0M1562 546h0M1536 548h0M1544 548h0M1548 548h0M1550 548h0M1554 548h0M1556 548h0M1544 550h0M1554 550h0M1558 550h0M1562 550h0M1564 550h0M1542 552h0M1558 552h0M1544 554h0M1550 554h0M1552 554h0M1562 554h0M1566 554h0M1570 554h0M1518 556h0M1558 556h0M1548 558h0M1558 558h0M1560 560h0M1566 560h0M1568 560h0M1550 562h0M1560 562h0M1564 562h0M1536 564h0M1544 564h0M1550 564h0M1552 564h0M1554 564h0M1550 566h0M1556 572h0M1558 580h0" stroke="rgb(0,255,120)"/><path d="M1648 450h0M1646 452h0M1642 456h0M1646 456h0M1638 462h0M1646 466h0M1656 466h0M1638 468h0M1640 468h0M1628 470h0M1570 528h0M1562 534h0M1544 540h0M1546 540h0M1534 542h0M1544 542h0M1552 542h0M1562 542h0M1546 544h0M1552 546h0M1554 546h0M1558 546h0M1566 546h0M1574 546h0M1576 546h0M1558 548h0M1540 550h0M1572 550h0M1574 550h0M1534 552h0M1536 552h0M1548 552h0M1550 552h0M1534 556h0M1542 556h0M1570 556h0M1536 558h0M1546 558h0M1550 558h0M1552 558h0M1542 560h0M1550 560h0M1562 564h0M1554 566h0M1564 566h0M1546 572h0M1540 576h0" stroke="rgb(0,255,30)"/><path d="M1658 446h0M1648 460h0M1656 460h0M1658 462h0M1634 464h0M1652 464h0M1634 466h0M1654 466h0M1658 466h0M1642 468h0M1644 468h0M1564 532h0M1554 540h0M1562 540h0M1548 542h0M1556 542h0M1566 548h0M1566 550h0M1560 558h0M1552 562h0" stroke="rgb(120,255,0)"/><path d="M1642 450h0M1646 462h0M1652 462h0M1654 462h0M1638 464h0M1642 464h0M1650 464h0M1660 464h0M1628 466h0M1630 466h0M1652 466h0M1650 468h0M1552 536h0M1542 538h0M1554 542h0M1562 544h0M1568 544h0M1550 546h0M1562 548h0M1564 548h0M1560 550h0M1546 552h0M1560 554h0M1550 556h0M1540 560h0M1544 562h0M1546 566h0" stroke="rgb(220,255,0)"/><path d="M1646 464h0M1636 466h0M1642 466h0M1558 562h0" stroke="rgb(255,200,0)"/><path d="M1644 464h0M1640 466h0" stroke="rgb(255,120,0)"/></g>
<path d="M1607.0 250.6V752.5M1361.2 490.3H1861.1" stroke="#111" stroke-width="2.2" fill="none"/>
<path d="M1361.2 752.5v12.5M1361.2 752.5h-12.5M1379.4 752.5v8M1361.2 726.6h-8M1391.0 752.5v8M1361.2 709.6h-8M1400.1 752.5v8M1361.2 698.1h-8M1406.9 752.5v8M1361.2 690.2h-8M1412.7 752.5v8M1361.2 683.3h-8M1417.5 752.5v8M1361.2 678.5h-8M1421.5 752.5v8M1361.2 674.1h-8M1424.5 752.5v8M1361.2 669.9h-8M1427.0 752.5v8M1361.2 666.0h-8M1428.8 752.5v12.5M1361.2 662.4h-12.5M1450.7 752.5v8M1361.2 641.6h-8M1463.4 752.5v8M1361.2 629.4h-8M1472.5 752.5v8M1361.2 620.7h-8M1479.5 752.5v8M1361.2 614.0h-8M1485.3 752.5v8M1361.2 608.6h-8M1490.2 752.5v8M1361.2 603.9h-8M1494.4 752.5v8M1361.2 599.9h-8M1498.1 752.5v8M1361.2 596.4h-8M1501.4 752.5v12.5M1361.2 593.2h-12.5M1523.3 752.5v8M1361.2 572.4h-8M1536.0 752.5v8M1361.2 560.2h-8M1545.1 752.5v8M1361.2 551.6h-8M1552.1 752.5v8M1361.2 544.9h-8M1557.9 752.5v8M1361.2 539.4h-8M1562.8 752.5v8M1361.2 534.8h-8M1567.0 752.5v8M1361.2 530.8h-8M1570.7 752.5v8M1361.2 527.2h-8M1574.0 752.5v12.5M1361.2 524.1h-12.5M1595.9 752.5v8M1361.2 503.2h-8M1608.6 752.5v8M1361.2 491.1h-8M1617.7 752.5v8M1361.2 482.4h-8M1624.7 752.5v8M1361.2 475.7h-8M1630.5 752.5v8M1361.2 470.2h-8M1635.4 752.5v8M1361.2 465.6h-8M1639.6 752.5v8M1361.2 461.6h-8M1643.3 752.5v8M1361.2 458.1h-8M1646.6 752.5v12.5M1361.2 454.9h-12.5M1668.5 752.5v8M1361.2 434.1h-8M1681.2 752.5v8M1361.2 421.9h-8M1690.3 752.5v8M1361.2 413.3h-8M1697.3 752.5v8M1361.2 406.6h-8M1703.1 752.5v8M1361.2 401.1h-8M1708.0 752.5v8M1361.2 396.4h-8M1712.2 752.5v8M1361.2 392.4h-8M1715.9 752.5v8M1361.2 388.9h-8M1719.2 752.5v12.5M1361.2 385.7h-12.5M1741.1 752.5v8M1361.2 364.9h-8M1753.8 752.5v8M1361.2 352.7h-8M1762.9 752.5v8M1361.2 344.1h-8M1769.9 752.5v8M1361.2 337.4h-8M1775.7 752.5v8M1361.2 331.9h-8M1780.6 752.5v8M1361.2 327.3h-8M1784.8 752.5v8M1361.2 323.3h-8M1788.5 752.5v8M1361.2 319.7h-8M1791.8 752.5v12.5M1361.2 316.6h-12.5M1813.7 752.5v8M1361.2 295.8h-8M1826.4 752.5v8M1361.2 283.6h-8M1835.5 752.5v8M1361.2 274.9h-8M1842.5 752.5v8M1361.2 268.2h-8M1848.3 752.5v8M1361.2 262.8h-8M1853.2 752.5v8M1361.2 258.1h-8M1857.4 752.5v8M1361.2 254.1h-8M1861.1 752.5v8M1361.2 250.6h-8M1861.1 752.5v12.5M1361.2 250.6h-12.5" stroke="#111" stroke-width="1.8" fill="none"/><path d="M1361.2 250.6V752.5H1861.1" stroke="#111" stroke-width="2.4" fill="none"/><path d="M1361.2 250.6H1861.1V752.5" stroke="#222" stroke-width="2" fill="none"/>
<g font-family="'Liberation Sans', Arial, sans-serif" font-size="26" fill="#161616" stroke="#161616" stroke-width="0.6"><text x="1361.2" y="796.4" text-anchor="middle">0</text><text x="1411.3" y="796.4">10<tspan font-size="19" dx="0.8" dy="-12">1</tspan></text><text x="1483.9" y="796.4">10<tspan font-size="19" dx="0.8" dy="-12">2</tspan></text><text x="1556.5" y="796.4">10<tspan font-size="19" dx="0.8" dy="-12">3</tspan></text><text x="1629.1" y="796.4">10<tspan font-size="19" dx="0.8" dy="-12">4</tspan></text><text x="1701.7" y="796.4">10<tspan font-size="19" dx="0.8" dy="-12">5</tspan></text><text x="1774.3" y="796.4">10<tspan font-size="19" dx="0.8" dy="-12">6</tspan></text><text transform="translate(1336.6,752.5) rotate(-90)" text-anchor="middle">0</text><text transform="translate(1336.6,680.6) rotate(-90)">10<tspan font-size="19" dx="0.8" dy="-12">1</tspan></text><text transform="translate(1336.6,611.4) rotate(-90)">10<tspan font-size="19" dx="0.8" dy="-12">2</tspan></text><text transform="translate(1336.6,542.3) rotate(-90)">10<tspan font-size="19" dx="0.8" dy="-12">3</tspan></text><text transform="translate(1336.6,473.1) rotate(-90)">10<tspan font-size="19" dx="0.8" dy="-12">4</tspan></text><text transform="translate(1336.6,403.9) rotate(-90)">10<tspan font-size="19" dx="0.8" dy="-12">5</tspan></text><text transform="translate(1336.6,334.8) rotate(-90)">10<tspan font-size="19" dx="0.8" dy="-12">6</tspan></text></g><rect x="1366.2" y="715.5" width="180" height="28" fill="#fff" fill-opacity="0.7"/><g font-family="'Liberation Sans', Arial, sans-serif" font-size="26.2" fill="#161616" stroke="#161616" stroke-width="0.75"><text x="1368.7" y="283.6">Q4-UL(2.56%)</text><text x="1852.1" y="283.6" text-anchor="end">Q4-UR(28.91%)</text><text x="1368.7" y="737.7">Q4-LL(67.20%)</text><text x="1852.1" y="737.7" text-anchor="end">Q4-LR(1.33%)</text></g>
<rect x="2169" y="379.6" width="43.0" height="260.7" fill="#000000"/><path d="M2190.5 379.6V375.5M2180.0 375.5H2201.0" stroke="#000000" stroke-width="2.6" fill="none"/><rect x="2255.3" y="391.4" width="43.4" height="248.9" fill="#0000ff"/><path d="M2277.0 391.4V383.8M2266.5 383.8H2287.5" stroke="#0000ff" stroke-width="2.6" fill="none"/><rect x="2341.7" y="457.6" width="42.8" height="182.7" fill="#ff0a7e"/><path d="M2363.1 457.6V452.4M2352.6 452.4H2373.6" stroke="#ff0a7e" stroke-width="2.6" fill="none"/><path d="M2147.5 249.7V641.5M2131.5 640.3H2408.5" stroke="#000" stroke-width="3" fill="none"/><path d="M2131.5 249.3H2147.5M2131.5 379.6H2147.5M2131.5 510.0H2147.5M2190.4 640V656M2277 640V656M2363.3 640V656" stroke="#000" stroke-width="3" fill="none"/><g font-family="'Liberation Sans', Arial, sans-serif" font-weight="bold" font-size="28.3" fill="#000" text-anchor="end"><text x="2125.6" y="259.3">150</text><text x="2125.6" y="389.6">100</text><text x="2125.6" y="520.0">50</text><text x="2125.6" y="650.3">0</text></g><text x="2279.5" y="374.4" font-family="'Liberation Sans', Arial, sans-serif" font-size="20" fill="#222" text-anchor="middle">ns</text><text x="2363.5" y="451" font-family="'Liberation Sans', Arial, sans-serif" font-weight="bold" font-size="18" fill="#111" text-anchor="middle">***</text><g font-family="'Liberation Sans', Arial, sans-serif" font-weight="bold" fill="#000"><text transform="translate(2058.5,564.5) rotate(-90)" font-size="31.5">Cell Viability</text><text transform="translate(2059.5,375) rotate(-90)" font-size="24">,</text><text transform="translate(2059.5,351.5) rotate(-90)" font-size="33" textLength="25" lengthAdjust="spacingAndGlyphs">%</text></g><text transform="translate(2198.4,683.0) rotate(-45)" font-family="'Liberation Sans', Arial, sans-serif" font-weight="bold" font-size="26.5" fill="#000" text-anchor="end">Control</text><text transform="translate(2285.0,683.0) rotate(-45)" font-family="'Liberation Sans', Arial, sans-serif" font-weight="bold" font-size="26.5" fill="#000" text-anchor="end">M0-BV2-SEVs group</text><text transform="translate(2371.3,683.0) rotate(-45)" font-family="'Liberation Sans', Arial, sans-serif" font-weight="bold" font-size="26.5" fill="#000" text-anchor="end">M1-BV2-SEVs group</text>
</svg></body></html>
